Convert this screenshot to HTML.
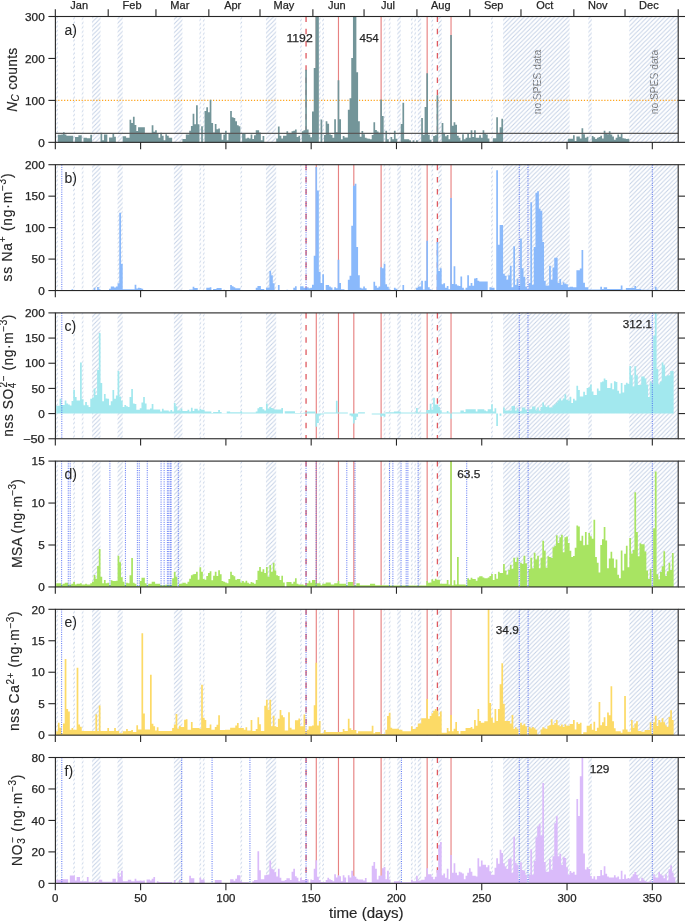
<!DOCTYPE html><html><head><meta charset="utf-8"><style>html,body{margin:0;padding:0;background:#fff;}svg{display:block;will-change:transform;}text{font-family:"Liberation Sans", sans-serif;fill:#262626;stroke:#262626;stroke-width:0.25px;} .tk{font-size:10.4px;} .lb{font-size:13.8px;stroke-width:0.15px;} .pl{font-size:14px;stroke-width:0.05px;} .an{font-size:11.5px;} .mo{font-size:11px;} .ns{font-size:10.3px;fill:#6e6e6e;stroke:#6e6e6e;stroke-width:0.1px;}</style></head><body><svg width="685" height="921" viewBox="0 0 685 921"><defs><pattern id="hatch" patternUnits="userSpaceOnUse" width="4.4" height="4.4"><path d="M-1,1 l2,-2 M0,4.4 l4.4,-4.4 M3.4,5.4 l2,-2" stroke="#c4d1e6" stroke-width="0.95"/></pattern></defs><rect width="685" height="921" fill="#fff"/><text transform="translate(540.5,82.05) rotate(-90)" x="0" y="0" text-anchor="middle" class="ns" textLength="64.3" lengthAdjust="spacingAndGlyphs">no SPES data</text><text transform="translate(658,82.05) rotate(-90)" x="0" y="0" text-anchor="middle" class="ns" textLength="64.3" lengthAdjust="spacingAndGlyphs">no SPES data</text><rect x="56.17" y="16.5" width="1.71" height="125.85" fill="url(#hatch)"/><rect x="73.23" y="16.5" width="1.71" height="125.85" fill="url(#hatch)"/><rect x="81.76" y="16.5" width="1.71" height="125.85" fill="url(#hatch)"/><rect x="91.99" y="16.5" width="8.53" height="125.85" fill="url(#hatch)"/><rect x="117.58" y="16.5" width="5.12" height="125.85" fill="url(#hatch)"/><rect x="173.87" y="16.5" width="8.53" height="125.85" fill="url(#hatch)"/><rect x="199.45" y="16.5" width="1.71" height="125.85" fill="url(#hatch)"/><rect x="202.86" y="16.5" width="1.71" height="125.85" fill="url(#hatch)"/><rect x="240.39" y="16.5" width="1.71" height="125.85" fill="url(#hatch)"/><rect x="265.97" y="16.5" width="10.23" height="125.85" fill="url(#hatch)"/><rect x="300.09" y="16.5" width="1.71" height="125.85" fill="url(#hatch)"/><rect x="318.85" y="16.5" width="1.71" height="125.85" fill="url(#hatch)"/><rect x="322.26" y="16.5" width="1.71" height="125.85" fill="url(#hatch)"/><rect x="383.67" y="16.5" width="1.71" height="125.85" fill="url(#hatch)"/><rect x="388.78" y="16.5" width="1.71" height="125.85" fill="url(#hatch)"/><rect x="397.31" y="16.5" width="3.41" height="125.85" fill="url(#hatch)"/><rect x="410.96" y="16.5" width="1.71" height="125.85" fill="url(#hatch)"/><rect x="414.37" y="16.5" width="1.71" height="125.85" fill="url(#hatch)"/><rect x="417.78" y="16.5" width="3.41" height="125.85" fill="url(#hatch)"/><rect x="431.43" y="16.5" width="1.71" height="125.85" fill="url(#hatch)"/><rect x="438.25" y="16.5" width="3.41" height="125.85" fill="url(#hatch)"/><rect x="491.13" y="16.5" width="1.71" height="125.85" fill="url(#hatch)"/><rect x="588.35" y="16.5" width="3.41" height="125.85" fill="url(#hatch)"/><rect x="503.07" y="16.5" width="66.52" height="125.85" fill="url(#hatch)"/><rect x="629.29" y="16.5" width="48.91" height="125.85" fill="url(#hatch)"/><line x1="316.29" y1="16.5" x2="316.29" y2="142.35" stroke="#d62728" stroke-opacity="0.58" stroke-width="1.15"/><line x1="338.47" y1="16.5" x2="338.47" y2="142.35" stroke="#d62728" stroke-opacity="0.58" stroke-width="1.15"/><line x1="353.82" y1="16.5" x2="353.82" y2="142.35" stroke="#d62728" stroke-opacity="0.58" stroke-width="1.15"/><line x1="381.11" y1="16.5" x2="381.11" y2="142.35" stroke="#d62728" stroke-opacity="0.58" stroke-width="1.15"/><line x1="427.16" y1="16.5" x2="427.16" y2="142.35" stroke="#d62728" stroke-opacity="0.58" stroke-width="1.15"/><line x1="451.04" y1="16.5" x2="451.04" y2="142.35" stroke="#d62728" stroke-opacity="0.58" stroke-width="1.15"/><line x1="306.06" y1="16.5" x2="306.06" y2="142.35" stroke="#df5a60" stroke-width="1.3" stroke-dasharray="5.5,6.7"/><line x1="437.4" y1="16.5" x2="437.4" y2="142.35" stroke="#df5a60" stroke-width="1.3" stroke-dasharray="5.5,6.7"/><line x1="55.32" y1="100.4" x2="678.2" y2="100.4" stroke="#ffa31a" stroke-width="1.2" stroke-dasharray="1.2,1.72"/><path d="M57.88 142.35H61.29V134.85H57.88ZM61.29 142.35H63V134.45H61.29ZM63 142.35H64.7V132.35H63ZM64.7 142.35H66.41V134.45H64.7ZM66.41 142.35H73.23V135.75H66.41ZM74.94 142.35H78.35V137.05H74.94ZM78.35 142.35H81.76V135.25H78.35ZM83.46 142.35H86.88V137.85H83.46ZM86.88 142.35H90.29V138.35H86.88ZM90.29 142.35H91.99V134.85H90.29ZM100.52 142.35H102.23V132.85H100.52ZM102.23 142.35H103.93V140.15H102.23ZM103.93 142.35H107.34V134.45H103.93ZM107.34 142.35H109.05V142.05H107.34ZM109.05 142.35H112.46V137.45H109.05ZM112.46 142.35H114.17V133.95H112.46ZM114.17 142.35H115.87V136.85H114.17ZM122.7 142.35H126.11V136.15H122.7ZM126.11 142.35H129.52V137.85H126.11ZM129.52 142.35H131.22V119.75H129.52ZM131.22 142.35H132.93V123.05H131.22ZM132.93 142.35H134.64V116.85H132.93ZM134.64 142.35H136.34V125.05H134.64ZM136.34 142.35H138.05V131.05H136.34ZM138.05 142.35H144.87V127.25H138.05ZM144.87 142.35H151.69V133.15H144.87ZM151.69 142.35H153.4V125.35H151.69ZM153.4 142.35H155.1V131.85H153.4ZM155.1 142.35H156.81V130.35H155.1ZM156.81 142.35H158.51V133.15H156.81ZM158.51 142.35H160.22V137.75H158.51ZM160.22 142.35H161.93V132.75H160.22ZM161.93 142.35H163.63V135.75H161.93ZM163.63 142.35H165.34V140.35H163.63ZM165.34 142.35H167.04V134.25H165.34ZM167.04 142.35H168.75V135.75H167.04ZM168.75 142.35H172.16V137.75H168.75ZM182.39 142.35H185.81V139.05H182.39ZM185.81 142.35H189.22V134.45H185.81ZM189.22 142.35H190.92V130.75H189.22ZM190.92 142.35H192.63V125.95H190.92ZM192.63 142.35H194.33V113.85H192.63ZM194.33 142.35H196.04V124.25H194.33ZM196.04 142.35H197.75V105.15H196.04ZM197.75 142.35H199.45V124.25H197.75ZM201.16 142.35H202.86V126.15H201.16ZM204.57 142.35H206.27V111.05H204.57ZM206.27 142.35H207.98V107.15H206.27ZM207.98 142.35H209.69V112.15H207.98ZM209.69 142.35H211.39V99.65H209.69ZM211.39 142.35H213.1V122.95H211.39ZM213.1 142.35H214.8V132.45H213.1ZM214.8 142.35H216.51V123.95H214.8ZM216.51 142.35H218.21V129.25H216.51ZM218.21 142.35H219.92V128.55H218.21ZM219.92 142.35H221.63V133.85H219.92ZM221.63 142.35H223.33V139.75H221.63ZM223.33 142.35H225.04V134.45H223.33ZM225.04 142.35H226.74V130.75H225.04ZM226.74 142.35H228.45V140.35H226.74ZM228.45 142.35H230.15V133.15H228.45ZM230.15 142.35H231.86V111.05H230.15ZM231.86 142.35H233.57V117.15H231.86ZM233.57 142.35H235.27V118.05H233.57ZM235.27 142.35H236.98V121.35H235.27ZM236.98 142.35H238.68V125.25H236.98ZM238.68 142.35H240.39V126.15H238.68ZM242.09 142.35H245.51V133.45H242.09ZM245.51 142.35H247.21V138.45H245.51ZM247.21 142.35H248.92V137.75H247.21ZM248.92 142.35H250.62V138.45H248.92ZM250.62 142.35H252.33V134.45H250.62ZM252.33 142.35H254.03V139.05H252.33ZM254.03 142.35H255.74V135.15H254.03ZM255.74 142.35H259.15V130.25H255.74ZM259.15 142.35H260.86V132.45H259.15ZM260.86 142.35H262.56V140.35H260.86ZM262.56 142.35H264.27V136.05H262.56ZM276.21 142.35H277.91V138.45H276.21ZM277.91 142.35H279.62V126.55H277.91ZM279.62 142.35H281.33V135.75H279.62ZM281.33 142.35H283.03V138.45H281.33ZM283.03 142.35H286.44V135.75H283.03ZM286.44 142.35H288.15V131.15H286.44ZM288.15 142.35H291.56V133.85H288.15ZM291.56 142.35H293.27V131.15H291.56ZM293.27 142.35H294.97V130.75H293.27ZM294.97 142.35H296.68V129.45H294.97ZM296.68 142.35H298.38V137.05H296.68ZM298.38 142.35H300.09V135.75H298.38ZM301.79 142.35H303.5V131.15H301.79ZM303.5 142.35H305.21V130.25H303.5ZM305.21 142.35H306.91V69.65H305.21ZM306.91 142.35H308.62V129.45H306.91ZM308.62 142.35H310.32V134.45H308.62ZM310.32 142.35H312.03V137.35H310.32ZM312.03 142.35H313.73V111.55H312.03ZM313.73 142.35H315.44V67.95H313.73ZM315.44 142.35H318.85V16.5H315.44ZM320.56 142.35H322.26V119.45H320.56ZM323.97 142.35H325.67V134.95H323.97ZM325.67 142.35H327.38V121.15H325.67ZM327.38 142.35H329.08V123.65H327.38ZM329.08 142.35H330.79V134.25H329.08ZM330.79 142.35H332.5V134.95H330.79ZM332.5 142.35H334.2V137.75H332.5ZM334.2 142.35H335.91V119.15H334.2ZM335.91 142.35H337.61V132.15H335.91ZM337.61 142.35H339.32V80.25H337.61ZM339.32 142.35H341.02V119.15H339.32ZM341.02 142.35H342.73V139.15H341.02ZM342.73 142.35H344.44V136.05H342.73ZM344.44 142.35H347.85V137.45H344.44ZM347.85 142.35H349.55V109.85H347.85ZM349.55 142.35H351.26V98.25H349.55ZM351.26 142.35H352.96V58.05H351.26ZM352.96 142.35H356.38V16.5H352.96ZM356.38 142.35H358.08V72.15H356.38ZM358.08 142.35H359.79V121.15H358.08ZM359.79 142.35H361.49V136.65H359.79ZM361.49 142.35H363.2V131.05H361.49ZM363.2 142.35H364.9V134.25H363.2ZM364.9 142.35H366.61V137.75H364.9ZM366.61 142.35H368.32V138.45H366.61ZM368.32 142.35H370.02V138.85H368.32ZM370.02 142.35H371.73V139.15H370.02ZM371.73 142.35H373.43V134.95H371.73ZM373.43 142.35H375.14V122.25H373.43ZM375.14 142.35H376.84V130.05H375.14ZM376.84 142.35H378.55V131.45H376.84ZM378.55 142.35H380.26V132.85H378.55ZM380.26 142.35H381.96V99.45H380.26ZM381.96 142.35H383.67V115.95H381.96ZM385.37 142.35H387.08V130.75H385.37ZM387.08 142.35H388.78V139.15H387.08ZM390.49 142.35H392.2V137.05H390.49ZM392.2 142.35H393.9V139.15H392.2ZM393.9 142.35H395.61V130.75H393.9ZM395.61 142.35H397.31V138.85H395.61ZM400.72 142.35H402.43V123.95H400.72ZM402.43 142.35H404.14V102.85H402.43ZM404.14 142.35H409.25V139.15H404.14ZM409.25 142.35H410.96V140.35H409.25ZM412.66 142.35H414.37V140.35H412.66ZM416.08 142.35H417.78V140.35H416.08ZM421.19 142.35H422.9V118.05H421.19ZM422.9 142.35H424.6V134.65H422.9ZM424.6 142.35H426.31V107.05H424.6ZM426.31 142.35H428.02V73.25H426.31ZM428.02 142.35H429.72V134.65H428.02ZM429.72 142.35H431.43V139.85H429.72ZM433.13 142.35H434.84V136.05H433.13ZM434.84 142.35H436.54V135.25H434.84ZM436.54 142.35H438.25V95.15H436.54ZM441.66 142.35H443.37V122.95H441.66ZM443.37 142.35H445.07V132.85H443.37ZM445.07 142.35H446.78V136.35H445.07ZM446.78 142.35H448.48V134.95H446.78ZM448.48 142.35H450.19V139.15H448.48ZM450.19 142.35H451.9V35.05H450.19ZM451.9 142.35H453.6V125.75H451.9ZM453.6 142.35H455.31V122.25H453.6ZM455.31 142.35H457.01V124.75H455.31ZM457.01 142.35H458.72V135.65H457.01ZM458.72 142.35H460.42V137.75H458.72ZM460.42 142.35H462.13V140.55H460.42ZM462.13 142.35H463.84V134.25H462.13ZM463.84 142.35H465.54V139.15H463.84ZM465.54 142.35H467.25V137.75H465.54ZM467.25 142.35H468.95V133.55H467.25ZM468.95 142.35H470.66V137.75H468.95ZM470.66 142.35H472.36V130.25H470.66ZM472.36 142.35H474.07V137.05H472.36ZM474.07 142.35H475.78V130.25H474.07ZM475.78 142.35H479.19V137.75H475.78ZM479.19 142.35H480.89V135.15H479.19ZM480.89 142.35H482.6V137.75H480.89ZM482.6 142.35H484.3V130.25H482.6ZM484.3 142.35H486.01V133.15H484.3ZM486.01 142.35H487.71V134.45H486.01ZM487.71 142.35H489.42V138.45H487.71ZM492.83 142.35H496.24V138.15H492.83ZM496.24 142.35H497.95V117.15H496.24ZM497.95 142.35H499.65V133.15H497.95ZM499.65 142.35H501.36V127.25H499.65ZM501.36 142.35H503.07V118.75H501.36ZM567.88 142.35H573V138.85H567.88ZM573 142.35H574.71V135.15H573ZM574.71 142.35H576.41V141.05H574.71ZM576.41 142.35H579.82V136.45H576.41ZM579.82 142.35H581.53V138.45H579.82ZM581.53 142.35H583.23V128.15H581.53ZM583.23 142.35H584.94V134.25H583.23ZM584.94 142.35H586.65V137.75H584.94ZM586.65 142.35H588.35V136.85H586.65ZM591.76 142.35H593.47V136.05H591.76ZM593.47 142.35H595.17V137.35H593.47ZM595.17 142.35H596.88V139.05H595.17ZM596.88 142.35H598.59V137.75H596.88ZM598.59 142.35H600.29V137.05H598.59ZM600.29 142.35H602V135.75H600.29ZM602 142.35H603.7V138.45H602ZM603.7 142.35H605.41V130.75H603.7ZM605.41 142.35H607.11V133.15H605.41ZM607.11 142.35H608.82V134.25H607.11ZM608.82 142.35H610.53V131.15H608.82ZM610.53 142.35H612.23V134.45H610.53ZM612.23 142.35H613.94V136.45H612.23ZM613.94 142.35H615.64V139.75H613.94ZM615.64 142.35H617.35V137.75H615.64ZM617.35 142.35H619.05V134.45H617.35ZM619.05 142.35H620.76V136.85H619.05ZM620.76 142.35H622.47V133.45H620.76ZM622.47 142.35H624.17V138.15H622.47ZM624.17 142.35H625.88V138.45H624.17ZM625.88 142.35H627.58V139.05H625.88ZM627.58 142.35H629.29V138.65H627.58Z" fill="#739599"/><line x1="55.32" y1="133.4" x2="678.2" y2="133.4" stroke="#5a5a5a" stroke-width="1.2"/><rect x="55.4" y="16.5" width="622.8" height="125.85" fill="none" stroke="#262626" stroke-width="1.1"/><line x1="48.4" y1="142.35" x2="55.4" y2="142.35" stroke="#262626" stroke-width="1.1"/><line x1="678.2" y1="142.35" x2="685.2" y2="142.35" stroke="#262626" stroke-width="1.1"/><text x="38.15" y="146.55" class="tk" textLength="6.55" lengthAdjust="spacingAndGlyphs">0</text><line x1="48.4" y1="100.4" x2="55.4" y2="100.4" stroke="#262626" stroke-width="1.1"/><line x1="678.2" y1="100.4" x2="685.2" y2="100.4" stroke="#262626" stroke-width="1.1"/><text x="25.05" y="104.6" class="tk" textLength="19.65" lengthAdjust="spacingAndGlyphs">100</text><line x1="48.4" y1="58.45" x2="55.4" y2="58.45" stroke="#262626" stroke-width="1.1"/><line x1="678.2" y1="58.45" x2="685.2" y2="58.45" stroke="#262626" stroke-width="1.1"/><text x="25.05" y="62.65" class="tk" textLength="19.65" lengthAdjust="spacingAndGlyphs">200</text><line x1="48.4" y1="16.5" x2="55.4" y2="16.5" stroke="#262626" stroke-width="1.1"/><line x1="678.2" y1="16.5" x2="685.2" y2="16.5" stroke="#262626" stroke-width="1.1"/><text x="25.05" y="20.7" class="tk" textLength="19.65" lengthAdjust="spacingAndGlyphs">300</text><line x1="55.32" y1="142.35" x2="55.32" y2="149.15" stroke="#262626" stroke-width="1.1"/><line x1="140.6" y1="142.35" x2="140.6" y2="149.15" stroke="#262626" stroke-width="1.1"/><line x1="225.89" y1="142.35" x2="225.89" y2="149.15" stroke="#262626" stroke-width="1.1"/><line x1="311.18" y1="142.35" x2="311.18" y2="149.15" stroke="#262626" stroke-width="1.1"/><line x1="396.46" y1="142.35" x2="396.46" y2="149.15" stroke="#262626" stroke-width="1.1"/><line x1="481.75" y1="142.35" x2="481.75" y2="149.15" stroke="#262626" stroke-width="1.1"/><line x1="567.03" y1="142.35" x2="567.03" y2="149.15" stroke="#262626" stroke-width="1.1"/><line x1="652.32" y1="142.35" x2="652.32" y2="149.15" stroke="#262626" stroke-width="1.1"/><text x="64.5" y="34.5" class="pl">a)</text><rect x="56.17" y="164.7" width="1.71" height="125.85" fill="url(#hatch)"/><rect x="73.23" y="164.7" width="1.71" height="125.85" fill="url(#hatch)"/><rect x="81.76" y="164.7" width="1.71" height="125.85" fill="url(#hatch)"/><rect x="91.99" y="164.7" width="8.53" height="125.85" fill="url(#hatch)"/><rect x="117.58" y="164.7" width="5.12" height="125.85" fill="url(#hatch)"/><rect x="173.87" y="164.7" width="8.53" height="125.85" fill="url(#hatch)"/><rect x="199.45" y="164.7" width="1.71" height="125.85" fill="url(#hatch)"/><rect x="202.86" y="164.7" width="1.71" height="125.85" fill="url(#hatch)"/><rect x="240.39" y="164.7" width="1.71" height="125.85" fill="url(#hatch)"/><rect x="265.97" y="164.7" width="10.23" height="125.85" fill="url(#hatch)"/><rect x="300.09" y="164.7" width="1.71" height="125.85" fill="url(#hatch)"/><rect x="318.85" y="164.7" width="1.71" height="125.85" fill="url(#hatch)"/><rect x="322.26" y="164.7" width="1.71" height="125.85" fill="url(#hatch)"/><rect x="383.67" y="164.7" width="1.71" height="125.85" fill="url(#hatch)"/><rect x="388.78" y="164.7" width="1.71" height="125.85" fill="url(#hatch)"/><rect x="397.31" y="164.7" width="3.41" height="125.85" fill="url(#hatch)"/><rect x="410.96" y="164.7" width="1.71" height="125.85" fill="url(#hatch)"/><rect x="414.37" y="164.7" width="1.71" height="125.85" fill="url(#hatch)"/><rect x="417.78" y="164.7" width="3.41" height="125.85" fill="url(#hatch)"/><rect x="431.43" y="164.7" width="1.71" height="125.85" fill="url(#hatch)"/><rect x="438.25" y="164.7" width="3.41" height="125.85" fill="url(#hatch)"/><rect x="491.13" y="164.7" width="1.71" height="125.85" fill="url(#hatch)"/><rect x="588.35" y="164.7" width="3.41" height="125.85" fill="url(#hatch)"/><rect x="503.07" y="164.7" width="66.52" height="125.85" fill="url(#hatch)"/><rect x="629.29" y="164.7" width="48.91" height="125.85" fill="url(#hatch)"/><line x1="316.29" y1="164.7" x2="316.29" y2="290.55" stroke="#d62728" stroke-opacity="0.58" stroke-width="1.15"/><line x1="338.47" y1="164.7" x2="338.47" y2="290.55" stroke="#d62728" stroke-opacity="0.58" stroke-width="1.15"/><line x1="353.82" y1="164.7" x2="353.82" y2="290.55" stroke="#d62728" stroke-opacity="0.58" stroke-width="1.15"/><line x1="381.11" y1="164.7" x2="381.11" y2="290.55" stroke="#d62728" stroke-opacity="0.58" stroke-width="1.15"/><line x1="427.16" y1="164.7" x2="427.16" y2="290.55" stroke="#d62728" stroke-opacity="0.58" stroke-width="1.15"/><line x1="451.04" y1="164.7" x2="451.04" y2="290.55" stroke="#d62728" stroke-opacity="0.58" stroke-width="1.15"/><line x1="306.06" y1="164.7" x2="306.06" y2="290.55" stroke="#df5a60" stroke-width="1.3" stroke-dasharray="5.5,6.7"/><line x1="437.4" y1="164.7" x2="437.4" y2="290.55" stroke="#df5a60" stroke-width="1.3" stroke-dasharray="5.5,6.7"/><path d="M71.52 290.55H73.23V289.15H71.52ZM93.7 290.55H95.4V287.75H93.7ZM97.11 290.55H98.82V287.05H97.11ZM98.82 290.55H100.52V289.15H98.82ZM109.05 290.55H110.76V288.85H109.05ZM110.76 290.55H114.17V286.55H110.76ZM114.17 290.55H115.87V287.45H114.17ZM115.87 290.55H117.58V286.55H115.87ZM117.58 290.55H119.28V283.25H117.58ZM119.28 290.55H120.99V212.65H119.28ZM120.99 290.55H122.7V263.75H120.99ZM122.7 290.55H134.64V289.15H122.7ZM134.64 290.55H136.34V284.65H134.64ZM136.34 290.55H138.05V288.45H136.34ZM138.05 290.55H139.75V287.75H138.05ZM139.75 290.55H141.46V288.05H139.75ZM141.46 290.55H143.16V288.85H141.46ZM189.22 290.55H192.63V289.45H189.22ZM192.63 290.55H194.33V286.75H192.63ZM194.33 290.55H197.75V288.05H194.33ZM206.27 290.55H209.69V287.75H206.27ZM209.69 290.55H211.39V287.25H209.69ZM213.1 290.55H216.51V289.05H213.1ZM216.51 290.55H221.63V288.05H216.51ZM223.33 290.55H225.04V289.65H223.33ZM230.15 290.55H231.86V285.05H230.15ZM231.86 290.55H233.57V286.35H231.86ZM233.57 290.55H235.27V287.25H233.57ZM235.27 290.55H240.39V288.35H235.27ZM255.74 290.55H257.45V287.75H255.74ZM257.45 290.55H260.86V286.05H257.45ZM260.86 290.55H264.27V289.05H260.86ZM265.97 290.55H267.68V287.75H265.97ZM267.68 290.55H269.39V287.55H267.68ZM269.39 290.55H271.09V271.05H269.39ZM271.09 290.55H272.8V275.25H271.09ZM272.8 290.55H274.5V283.15H272.8ZM277.91 290.55H279.62V285.05H277.91ZM286.44 290.55H288.15V289.65H286.44ZM293.27 290.55H294.97V287.75H293.27ZM294.97 290.55H296.68V286.15H294.97ZM300.09 290.55H303.5V286.35H300.09ZM303.5 290.55H305.21V287.75H303.5ZM305.21 290.55H306.91V287.55H305.21ZM306.91 290.55H308.62V287.35H306.91ZM308.62 290.55H310.32V288.35H308.62ZM310.32 290.55H312.03V287.85H310.32ZM312.03 290.55H313.73V284.65H312.03ZM313.73 290.55H315.44V255.85H313.73ZM315.44 290.55H317.14V166.95H315.44ZM317.14 290.55H318.85V190.55H317.14ZM318.85 290.55H320.56V271.65H318.85ZM320.56 290.55H322.26V282.95H320.56ZM322.26 290.55H323.97V274.15H322.26ZM323.97 290.55H325.67V289.95H323.97ZM325.67 290.55H329.08V285.05H325.67ZM329.08 290.55H330.79V286.45H329.08ZM330.79 290.55H332.5V287.45H330.79ZM332.5 290.55H334.2V289.65H332.5ZM334.2 290.55H335.91V287.15H334.2ZM335.91 290.55H337.61V288.25H335.91ZM337.61 290.55H339.32V259.65H337.61ZM339.32 290.55H341.02V282.95H339.32ZM341.02 290.55H344.44V289.25H341.02ZM347.85 290.55H349.55V279.85H347.85ZM349.55 290.55H351.26V275.85H349.55ZM351.26 290.55H352.96V225.75H351.26ZM352.96 290.55H354.67V185.85H352.96ZM354.67 290.55H356.38V183.85H354.67ZM356.38 290.55H358.08V246.95H356.38ZM358.08 290.55H359.79V275.15H358.08ZM359.79 290.55H361.49V287.85H359.79ZM361.49 290.55H363.2V288.55H361.49ZM363.2 290.55H364.9V286.45H363.2ZM364.9 290.55H366.61V288.25H364.9ZM366.61 290.55H371.73V290.05H366.61ZM373.43 290.55H375.14V281.85H373.43ZM375.14 290.55H376.84V285.75H375.14ZM376.84 290.55H378.55V287.85H376.84ZM378.55 290.55H380.26V286.45H378.55ZM380.26 290.55H381.96V267.15H380.26ZM381.96 290.55H383.67V268.15H381.96ZM383.67 290.55H385.37V263.85H383.67ZM385.37 290.55H387.08V284.35H385.37ZM387.08 290.55H388.78V286.85H387.08ZM388.78 290.55H390.49V289.25H388.78ZM393.9 290.55H395.61V287.85H393.9ZM395.61 290.55H397.31V288.85H395.61ZM402.43 290.55H404.14V285.05H402.43ZM416.08 290.55H417.78V287.85H416.08ZM417.78 290.55H421.19V286.45H417.78ZM421.19 290.55H422.9V280.75H421.19ZM422.9 290.55H424.6V289.55H422.9ZM424.6 290.55H426.31V280.75H424.6ZM426.31 290.55H428.02V240.85H426.31ZM428.02 290.55H429.72V287.15H428.02ZM429.72 290.55H431.43V289.25H429.72ZM431.43 290.55H436.54V290.05H431.43ZM436.54 290.55H438.25V242.05H436.54ZM438.25 290.55H439.96V270.95H438.25ZM439.96 290.55H441.66V268.15H439.96ZM441.66 290.55H443.37V284.35H441.66ZM443.37 290.55H445.07V283.25H443.37ZM445.07 290.55H446.78V287.85H445.07ZM446.78 290.55H448.48V286.05H446.78ZM448.48 290.55H450.19V289.25H448.48ZM450.19 290.55H451.9V198.05H450.19ZM451.9 290.55H453.6V284.05H451.9ZM453.6 290.55H455.31V266.25H453.6ZM455.31 290.55H457.01V284.35H455.31ZM457.01 290.55H458.72V285.45H457.01ZM458.72 290.55H460.42V286.05H458.72ZM460.42 290.55H462.13V276.55H460.42ZM462.13 290.55H463.84V287.85H462.13ZM463.84 290.55H465.54V289.65H463.84ZM465.54 290.55H467.25V287.85H465.54ZM467.25 290.55H468.95V275.15H467.25ZM468.95 290.55H470.66V285.75H468.95ZM470.66 290.55H472.36V282.95H470.66ZM472.36 290.55H474.07V285.75H472.36ZM474.07 290.55H475.78V278.45H474.07ZM475.78 290.55H477.48V277.95H475.78ZM477.48 290.55H479.19V280.75H477.48ZM479.19 290.55H487.71V281.45H479.19ZM489.42 290.55H491.13V287.15H489.42ZM491.13 290.55H494.54V287.85H491.13ZM496.24 290.55H497.95V170.35H496.24ZM497.95 290.55H499.65V244.85H497.95ZM499.65 290.55H503.07V225.05H499.65ZM503.07 290.55H504.77V273.75H503.07ZM504.77 290.55H506.48V275.85H504.77ZM506.48 290.55H508.18V279.85H506.48ZM508.18 290.55H509.89V275.15H508.18ZM509.89 290.55H511.59V265.75H509.89ZM511.59 290.55H513.3V287.15H511.59ZM513.3 290.55H515.01V246.25H513.3ZM515.01 290.55H516.71V285.05H515.01ZM516.71 290.55H518.42V278.75H516.71ZM518.42 290.55H520.12V285.75H518.42ZM520.12 290.55H521.83V238.55H520.12ZM521.83 290.55H523.53V268.15H521.83ZM523.53 290.55H525.24V277.05H523.53ZM525.24 290.55H526.95V286.45H525.24ZM526.95 290.55H528.65V289.25H526.95ZM528.65 290.55H530.36V282.95H528.65ZM530.36 290.55H532.06V202.25H530.36ZM532.06 290.55H533.77V284.65H532.06ZM533.77 290.55H535.47V246.95H533.77ZM535.47 290.55H537.18V192.65H535.47ZM537.18 290.55H538.89V191.25H537.18ZM538.89 290.55H540.59V208.85H538.89ZM540.59 290.55H542.3V210.95H540.59ZM542.3 290.55H544V242.05H542.3ZM544 290.55H545.71V280.75H544ZM545.71 290.55H547.41V285.75H545.71ZM547.41 290.55H549.12V285.45H547.41ZM549.12 290.55H550.83V265.75H549.12ZM550.83 290.55H552.53V279.85H550.83ZM552.53 290.55H554.24V267.45H552.53ZM554.24 290.55H557.65V257.85H554.24ZM557.65 290.55H559.35V282.95H557.65ZM559.35 290.55H561.06V278.95H559.35ZM561.06 290.55H562.77V284.65H561.06ZM562.77 290.55H564.47V282.25H562.77ZM564.47 290.55H566.18V283.65H564.47ZM566.18 290.55H567.88V284.25H566.18ZM567.88 290.55H569.59V287.15H567.88ZM569.59 290.55H573V286.65H569.59ZM573 290.55H576.41V287.15H573ZM576.41 290.55H579.82V270.15H576.41ZM579.82 290.55H581.53V268.45H579.82ZM581.53 290.55H583.23V250.05H581.53ZM583.23 290.55H584.94V282.85H583.23ZM584.94 290.55H588.35V287.15H584.94ZM588.35 290.55H600.29V289.45H588.35ZM600.29 290.55H602V286.65H600.29ZM602 290.55H603.7V288.95H602ZM603.7 290.55H607.11V287.15H603.7ZM607.11 290.55H620.76V288.95H607.11ZM620.76 290.55H622.47V285.45H620.76ZM622.47 290.55H625.88V289.85H622.47ZM625.88 290.55H634.41V288.05H625.88ZM634.41 290.55H636.11V285.95H634.41ZM636.11 290.55H641.23V288.95H636.11ZM641.23 290.55H651.46V289.85H641.23ZM654.87 290.55H656.58V286.65H654.87ZM656.58 290.55H658.28V289.45H656.58Z" fill="#8ab9fb"/><line x1="61.8" y1="164.7" x2="61.8" y2="290.55" stroke="#3a58f2" stroke-opacity="0.85" stroke-width="1" stroke-dasharray="1,1.25"/><line x1="306.06" y1="164.7" x2="306.06" y2="290.55" stroke="#3a58f2" stroke-opacity="0.85" stroke-width="1" stroke-dasharray="1,1.25"/><line x1="519.27" y1="164.7" x2="519.27" y2="290.55" stroke="#3a58f2" stroke-opacity="0.85" stroke-width="1" stroke-dasharray="1,1.25"/><line x1="527.97" y1="164.7" x2="527.97" y2="290.55" stroke="#3a58f2" stroke-opacity="0.85" stroke-width="1" stroke-dasharray="1,1.25"/><line x1="652.32" y1="164.7" x2="652.32" y2="290.55" stroke="#3a58f2" stroke-opacity="0.85" stroke-width="1" stroke-dasharray="1,1.25"/><rect x="55.4" y="164.7" width="622.8" height="125.85" fill="none" stroke="#262626" stroke-width="1.1"/><line x1="48.4" y1="290.55" x2="55.4" y2="290.55" stroke="#262626" stroke-width="1.1"/><line x1="678.2" y1="290.55" x2="685.2" y2="290.55" stroke="#262626" stroke-width="1.1"/><text x="38.15" y="294.75" class="tk" textLength="6.55" lengthAdjust="spacingAndGlyphs">0</text><line x1="48.4" y1="259.09" x2="55.4" y2="259.09" stroke="#262626" stroke-width="1.1"/><line x1="678.2" y1="259.09" x2="685.2" y2="259.09" stroke="#262626" stroke-width="1.1"/><text x="31.6" y="263.29" class="tk" textLength="13.1" lengthAdjust="spacingAndGlyphs">50</text><line x1="48.4" y1="227.62" x2="55.4" y2="227.62" stroke="#262626" stroke-width="1.1"/><line x1="678.2" y1="227.62" x2="685.2" y2="227.62" stroke="#262626" stroke-width="1.1"/><text x="25.05" y="231.82" class="tk" textLength="19.65" lengthAdjust="spacingAndGlyphs">100</text><line x1="48.4" y1="196.16" x2="55.4" y2="196.16" stroke="#262626" stroke-width="1.1"/><line x1="678.2" y1="196.16" x2="685.2" y2="196.16" stroke="#262626" stroke-width="1.1"/><text x="25.05" y="200.36" class="tk" textLength="19.65" lengthAdjust="spacingAndGlyphs">150</text><line x1="48.4" y1="164.7" x2="55.4" y2="164.7" stroke="#262626" stroke-width="1.1"/><line x1="678.2" y1="164.7" x2="685.2" y2="164.7" stroke="#262626" stroke-width="1.1"/><text x="25.05" y="168.9" class="tk" textLength="19.65" lengthAdjust="spacingAndGlyphs">200</text><line x1="55.32" y1="290.55" x2="55.32" y2="297.35" stroke="#262626" stroke-width="1.1"/><line x1="140.6" y1="290.55" x2="140.6" y2="297.35" stroke="#262626" stroke-width="1.1"/><line x1="225.89" y1="290.55" x2="225.89" y2="297.35" stroke="#262626" stroke-width="1.1"/><line x1="311.18" y1="290.55" x2="311.18" y2="297.35" stroke="#262626" stroke-width="1.1"/><line x1="396.46" y1="290.55" x2="396.46" y2="297.35" stroke="#262626" stroke-width="1.1"/><line x1="481.75" y1="290.55" x2="481.75" y2="297.35" stroke="#262626" stroke-width="1.1"/><line x1="567.03" y1="290.55" x2="567.03" y2="297.35" stroke="#262626" stroke-width="1.1"/><line x1="652.32" y1="290.55" x2="652.32" y2="297.35" stroke="#262626" stroke-width="1.1"/><text x="64.5" y="182.7" class="pl">b)</text><rect x="56.17" y="312.9" width="1.71" height="125.85" fill="url(#hatch)"/><rect x="73.23" y="312.9" width="1.71" height="125.85" fill="url(#hatch)"/><rect x="81.76" y="312.9" width="1.71" height="125.85" fill="url(#hatch)"/><rect x="91.99" y="312.9" width="8.53" height="125.85" fill="url(#hatch)"/><rect x="117.58" y="312.9" width="5.12" height="125.85" fill="url(#hatch)"/><rect x="173.87" y="312.9" width="8.53" height="125.85" fill="url(#hatch)"/><rect x="199.45" y="312.9" width="1.71" height="125.85" fill="url(#hatch)"/><rect x="202.86" y="312.9" width="1.71" height="125.85" fill="url(#hatch)"/><rect x="240.39" y="312.9" width="1.71" height="125.85" fill="url(#hatch)"/><rect x="265.97" y="312.9" width="10.23" height="125.85" fill="url(#hatch)"/><rect x="300.09" y="312.9" width="1.71" height="125.85" fill="url(#hatch)"/><rect x="318.85" y="312.9" width="1.71" height="125.85" fill="url(#hatch)"/><rect x="322.26" y="312.9" width="1.71" height="125.85" fill="url(#hatch)"/><rect x="383.67" y="312.9" width="1.71" height="125.85" fill="url(#hatch)"/><rect x="388.78" y="312.9" width="1.71" height="125.85" fill="url(#hatch)"/><rect x="397.31" y="312.9" width="3.41" height="125.85" fill="url(#hatch)"/><rect x="410.96" y="312.9" width="1.71" height="125.85" fill="url(#hatch)"/><rect x="414.37" y="312.9" width="1.71" height="125.85" fill="url(#hatch)"/><rect x="417.78" y="312.9" width="3.41" height="125.85" fill="url(#hatch)"/><rect x="431.43" y="312.9" width="1.71" height="125.85" fill="url(#hatch)"/><rect x="438.25" y="312.9" width="3.41" height="125.85" fill="url(#hatch)"/><rect x="491.13" y="312.9" width="1.71" height="125.85" fill="url(#hatch)"/><rect x="588.35" y="312.9" width="3.41" height="125.85" fill="url(#hatch)"/><rect x="503.07" y="312.9" width="66.52" height="125.85" fill="url(#hatch)"/><rect x="629.29" y="312.9" width="48.91" height="125.85" fill="url(#hatch)"/><line x1="316.29" y1="312.9" x2="316.29" y2="438.75" stroke="#d62728" stroke-opacity="0.58" stroke-width="1.15"/><line x1="338.47" y1="312.9" x2="338.47" y2="438.75" stroke="#d62728" stroke-opacity="0.58" stroke-width="1.15"/><line x1="353.82" y1="312.9" x2="353.82" y2="438.75" stroke="#d62728" stroke-opacity="0.58" stroke-width="1.15"/><line x1="381.11" y1="312.9" x2="381.11" y2="438.75" stroke="#d62728" stroke-opacity="0.58" stroke-width="1.15"/><line x1="427.16" y1="312.9" x2="427.16" y2="438.75" stroke="#d62728" stroke-opacity="0.58" stroke-width="1.15"/><line x1="451.04" y1="312.9" x2="451.04" y2="438.75" stroke="#d62728" stroke-opacity="0.58" stroke-width="1.15"/><line x1="306.06" y1="312.9" x2="306.06" y2="438.75" stroke="#df5a60" stroke-width="1.3" stroke-dasharray="5.5,6.7"/><line x1="437.4" y1="312.9" x2="437.4" y2="438.75" stroke="#df5a60" stroke-width="1.3" stroke-dasharray="5.5,6.7"/><path d="M56.17 413.58H59.58V405.78H56.17ZM59.58 413.58H61.29V398.78H59.58ZM61.29 413.58H64.7V404.88H61.29ZM64.7 413.58H66.41V400.58H64.7ZM66.41 413.58H68.11V403.38H66.41ZM68.11 413.58H69.82V404.38H68.11ZM69.82 413.58H71.52V405.58H69.82ZM71.52 413.58H73.23V400.98H71.52ZM73.23 413.58H74.94V389.78H73.23ZM74.94 413.58H76.64V397.08H74.94ZM76.64 413.58H80.05V400.58H76.64ZM80.05 413.58H81.76V362.48H80.05ZM81.76 413.58H83.46V399.18H81.76ZM83.46 413.58H85.17V405.28H83.46ZM85.17 413.58H86.88V401.98H85.17ZM86.88 413.58H88.58V405.28H86.88ZM88.58 413.58H90.29V406.98H88.58ZM90.29 413.58H91.99V398.78H90.29ZM91.99 413.58H93.7V397.38H91.99ZM93.7 413.58H95.4V388.58H93.7ZM95.4 413.58H97.11V394.98H95.4ZM97.11 413.58H98.82V369.98H97.11ZM98.82 413.58H100.52V332.88H98.82ZM100.52 413.58H102.23V382.98H100.52ZM102.23 413.58H103.93V401.28H102.23ZM103.93 413.58H105.64V393.98H103.93ZM105.64 413.58H107.34V398.48H105.64ZM107.34 413.58H109.05V398.78H107.34ZM109.05 413.58H110.76V405.28H109.05ZM110.76 413.58H112.46V401.28H110.76ZM112.46 413.58H114.17V389.98H112.46ZM114.17 413.58H115.87V398.78H114.17ZM115.87 413.58H117.58V395.38H115.87ZM117.58 413.58H119.28V370.98H117.58ZM119.28 413.58H120.99V396.38H119.28ZM120.99 413.58H122.7V400.58H120.99ZM122.7 413.58H124.4V406.98H122.7ZM124.4 413.58H126.11V404.88H124.4ZM126.11 413.58H127.81V406.28H126.11ZM127.81 413.58H129.52V406.98H127.81ZM129.52 413.58H131.22V397.08H129.52ZM131.22 413.58H132.93V388.88H131.22ZM132.93 413.58H134.64V403.38H132.93ZM134.64 413.58H136.34V404.08H134.64ZM136.34 413.58H139.75V409.78H136.34ZM139.75 413.58H141.46V408.28H139.75ZM141.46 413.58H143.16V402.58H141.46ZM143.16 413.58H144.87V397.08H143.16ZM144.87 413.58H146.57V403.38H144.87ZM146.57 413.58H149.99V409.48H146.57ZM149.99 413.58H151.69V408.38H149.99ZM151.69 413.58H153.4V404.08H151.69ZM153.4 413.58H160.22V409.48H153.4ZM160.22 413.58H161.93V411.48H160.22ZM161.93 413.58H163.63V408.68H161.93ZM163.63 413.58H168.75V410.48H163.63ZM168.75 413.58H170.45V411.48H168.75ZM170.45 413.58H172.16V410.08H170.45ZM172.16 413.58H173.87V411.48H172.16ZM173.87 413.58H175.57V402.98H173.87ZM175.57 413.58H177.28V406.28H175.57ZM177.28 413.58H180.69V410.48H177.28ZM180.69 413.58H182.39V408.38H180.69ZM182.39 413.58H187.51V410.88H182.39ZM187.51 413.58H189.22V409.78H187.51ZM189.22 413.58H190.92V411.48H189.22ZM190.92 413.58H192.63V407.68H190.92ZM192.63 413.58H194.33V410.88H192.63ZM194.33 413.58H197.75V408.68H194.33ZM197.75 413.58H199.45V410.48H197.75ZM199.45 413.58H201.16V408.68H199.45ZM201.16 413.58H204.57V409.78H201.16ZM204.57 413.58H211.39V411.48H204.57ZM211.39 413.58H213.1V412.88H211.39ZM213.1 413.58H218.21V411.88H213.1ZM218.21 413.58H219.92V410.08H218.21ZM219.92 413.58H221.63V411.88H219.92ZM221.63 413.58H226.74V413.18H221.63ZM226.74 413.58H230.15V411.58H226.74ZM230.15 413.58H240.39V412.18H230.15ZM240.39 413.58H242.09V411.28H240.39ZM242.09 413.58H255.74V412.38H242.09ZM255.74 413.58H257.45V411.58H255.74ZM257.45 413.58H259.15V408.28H257.45ZM259.15 413.58H262.56V406.98H259.15ZM262.56 413.58H264.27V409.18H262.56ZM264.27 413.58H265.97V410.58H264.27ZM265.97 413.58H267.68V403.38H265.97ZM267.68 413.58H269.39V408.68H267.68ZM269.39 413.58H271.09V406.98H269.39ZM271.09 413.58H272.8V407.88H271.09ZM272.8 413.58H274.5V408.68H272.8ZM274.5 413.58H281.33V409.58H274.5ZM281.33 413.58H283.03V407.88H281.33ZM284.74 413.58H294.97V411.28H284.74ZM294.97 413.58H303.5V412.88H294.97ZM303.5 413.58H306.91V412.58H303.5ZM306.91 413.58H315.44V411.58H306.91ZM315.44 413.58H317.14V426.68H315.44ZM317.14 413.58H318.85V423.08H317.14ZM318.85 413.58H320.56V415.48H318.85ZM320.56 413.58H323.97V414.38H320.56ZM323.97 413.58H335.91V412.58H323.97ZM335.91 413.58H337.61V400.78H335.91ZM337.61 413.58H347.85V412.58H337.61ZM349.55 413.58H351.26V415.48H349.55ZM351.26 413.58H352.96V416.58H351.26ZM352.96 413.58H354.67V423.58H352.96ZM354.67 413.58H356.38V420.08H354.67ZM356.38 413.58H358.08V416.78H356.38ZM358.08 413.58H364.9V412.18H358.08ZM371.73 413.58H380.26V414.38H371.73ZM380.26 413.58H381.96V416.78H380.26ZM381.96 413.58H383.67V415.78H381.96ZM383.67 413.58H385.37V416.78H383.67ZM385.37 413.58H393.9V412.18H385.37ZM393.9 413.58H400.72V411.58H393.9ZM400.72 413.58H416.08V412.58H400.72ZM416.08 413.58H417.78V407.88H416.08ZM417.78 413.58H426.31V412.58H417.78ZM426.31 413.58H429.72V409.98H426.31ZM429.72 413.58H431.43V403.68H429.72ZM431.43 413.58H433.13V409.58H431.43ZM433.13 413.58H434.84V397.78H433.13ZM434.84 413.58H438.25V404.38H434.84ZM438.25 413.58H439.96V406.98H438.25ZM439.96 413.58H441.66V410.18H439.96ZM441.66 413.58H446.78V412.58H441.66ZM446.78 413.58H448.48V410.88H446.78ZM448.48 413.58H450.19V412.58H448.48ZM450.19 413.58H451.9V418.78H450.19ZM451.9 413.58H460.42V412.58H451.9ZM460.42 413.58H463.84V410.48H460.42ZM463.84 413.58H465.54V412.08H463.84ZM465.54 413.58H475.78V409.18H465.54ZM475.78 413.58H477.48V411.58H475.78ZM477.48 413.58H484.3V409.18H477.48ZM484.3 413.58H486.01V410.48H484.3ZM486.01 413.58H487.71V411.28H486.01ZM487.71 413.58H491.13V409.18H487.71ZM491.13 413.58H492.83V404.28H491.13ZM492.83 413.58H494.54V411.58H492.83ZM494.54 413.58H496.24V408.28H494.54ZM496.24 413.58H497.95V425.98H496.24ZM499.65 413.58H501.36V415.78H499.65ZM503.07 413.58H504.77V407.38H503.07ZM504.77 413.58H511.59V410.48H504.77ZM511.59 413.58H515.01V405.98H511.59ZM515.01 413.58H516.71V410.48H515.01ZM516.71 413.58H518.42V408.28H516.71ZM518.42 413.58H521.83V411.28H518.42ZM521.83 413.58H525.24V407.58H521.83ZM525.24 413.58H526.95V409.58H525.24ZM526.95 413.58H528.65V412.18H526.95ZM528.65 413.58H532.06V409.18H528.65ZM532.06 413.58H535.47V406.58H532.06ZM535.47 413.58H537.18V410.18H535.47ZM537.18 413.58H538.89V407.58H537.18ZM538.89 413.58H540.59V410.88H538.89ZM540.59 413.58H542.3V406.98H540.59ZM542.3 413.58H544V402.58H542.3ZM544 413.58H545.71V405.58H544ZM545.71 413.58H547.41V406.98H545.71ZM547.41 413.58H549.12V405.58H547.41ZM549.12 413.58H552.53V407.58H549.12ZM552.53 413.58H554.24V405.58H552.53ZM554.24 413.58H555.94V404.28H554.24ZM555.94 413.58H557.65V402.58H555.94ZM557.65 413.58H559.35V400.38H557.65ZM559.35 413.58H561.06V398.38H559.35ZM561.06 413.58H562.77V400.38H561.06ZM562.77 413.58H564.47V398.38H562.77ZM564.47 413.58H566.18V394.18H564.47ZM566.18 413.58H567.88V399.68H566.18ZM567.88 413.58H569.59V400.38H567.88ZM569.59 413.58H571.29V396.78H569.59ZM571.29 413.58H573V402.98H571.29ZM573 413.58H574.71V398.78H573ZM574.71 413.58H576.41V400.58H574.71ZM576.41 413.58H578.12V385.78H576.41ZM578.12 413.58H579.82V389.98H578.12ZM579.82 413.58H583.23V396.38H579.82ZM583.23 413.58H584.94V391.68H583.23ZM584.94 413.58H586.65V394.98H584.94ZM586.65 413.58H588.35V387.88H586.65ZM588.35 413.58H590.06V387.18H588.35ZM590.06 413.58H591.76V384.38H590.06ZM591.76 413.58H593.47V391.38H591.76ZM593.47 413.58H596.88V394.98H593.47ZM596.88 413.58H598.59V388.58H596.88ZM598.59 413.58H600.29V390.78H598.59ZM600.29 413.58H602V382.28H600.29ZM602 413.58H603.7V381.58H602ZM603.7 413.58H605.41V378.48H603.7ZM605.41 413.58H607.11V379.88H605.41ZM607.11 413.58H610.53V387.88H607.11ZM610.53 413.58H612.23V383.18H610.53ZM612.23 413.58H613.94V389.28H612.23ZM613.94 413.58H615.64V381.28H613.94ZM615.64 413.58H617.35V381.88H615.64ZM617.35 413.58H619.05V390.78H617.35ZM619.05 413.58H620.76V393.58H619.05ZM620.76 413.58H622.47V382.98H620.76ZM622.47 413.58H624.17V392.58H622.47ZM624.17 413.58H625.88V384.68H624.17ZM625.88 413.58H627.58V382.68H625.88ZM627.58 413.58H629.29V383.68H627.58ZM629.29 413.58H630.99V365.98H629.29ZM630.99 413.58H632.7V375.18H630.99ZM632.7 413.58H634.41V386.48H632.7ZM634.41 413.58H636.11V366.28H634.41ZM636.11 413.58H637.82V375.18H636.11ZM637.82 413.58H641.23V385.08H637.82ZM641.23 413.58H644.64V376.58H641.23ZM644.64 413.58H646.35V378.48H644.64ZM646.35 413.58H648.05V384.38H646.35ZM648.05 413.58H649.76V397.08H648.05ZM649.76 413.58H651.46V381.28H649.76ZM651.46 413.58H653.17V383.58H651.46ZM653.17 413.58H654.87V335.78H653.17ZM654.87 413.58H656.58V312.9H654.87ZM656.58 413.58H658.28V368.88H656.58ZM658.28 413.58H659.99V384.28H658.28ZM659.99 413.58H661.7V381.38H659.99ZM661.7 413.58H663.4V362.48H661.7ZM663.4 413.58H665.11V365.28H663.4ZM665.11 413.58H666.81V376.18H665.11ZM666.81 413.58H670.22V375.18H666.81ZM670.22 413.58H673.64V370.98H670.22Z" fill="#a2e8ee"/><line x1="61.8" y1="312.9" x2="61.8" y2="438.75" stroke="#3a58f2" stroke-opacity="0.85" stroke-width="1" stroke-dasharray="1,1.25"/><line x1="519.27" y1="312.9" x2="519.27" y2="438.75" stroke="#3a58f2" stroke-opacity="0.85" stroke-width="1" stroke-dasharray="1,1.25"/><line x1="527.97" y1="312.9" x2="527.97" y2="438.75" stroke="#3a58f2" stroke-opacity="0.85" stroke-width="1" stroke-dasharray="1,1.25"/><line x1="652.32" y1="312.9" x2="652.32" y2="438.75" stroke="#3a58f2" stroke-opacity="0.85" stroke-width="1" stroke-dasharray="1,1.25"/><rect x="55.4" y="312.9" width="622.8" height="125.85" fill="none" stroke="#262626" stroke-width="1.1"/><line x1="48.4" y1="438.75" x2="55.4" y2="438.75" stroke="#262626" stroke-width="1.1"/><line x1="678.2" y1="438.75" x2="685.2" y2="438.75" stroke="#262626" stroke-width="1.1"/><text x="23" y="442.95" class="tk" textLength="21.7" lengthAdjust="spacingAndGlyphs">−50</text><line x1="48.4" y1="413.58" x2="55.4" y2="413.58" stroke="#262626" stroke-width="1.1"/><line x1="678.2" y1="413.58" x2="685.2" y2="413.58" stroke="#262626" stroke-width="1.1"/><text x="38.15" y="417.78" class="tk" textLength="6.55" lengthAdjust="spacingAndGlyphs">0</text><line x1="48.4" y1="388.41" x2="55.4" y2="388.41" stroke="#262626" stroke-width="1.1"/><line x1="678.2" y1="388.41" x2="685.2" y2="388.41" stroke="#262626" stroke-width="1.1"/><text x="31.6" y="392.61" class="tk" textLength="13.1" lengthAdjust="spacingAndGlyphs">50</text><line x1="48.4" y1="363.24" x2="55.4" y2="363.24" stroke="#262626" stroke-width="1.1"/><line x1="678.2" y1="363.24" x2="685.2" y2="363.24" stroke="#262626" stroke-width="1.1"/><text x="25.05" y="367.44" class="tk" textLength="19.65" lengthAdjust="spacingAndGlyphs">100</text><line x1="48.4" y1="338.07" x2="55.4" y2="338.07" stroke="#262626" stroke-width="1.1"/><line x1="678.2" y1="338.07" x2="685.2" y2="338.07" stroke="#262626" stroke-width="1.1"/><text x="25.05" y="342.27" class="tk" textLength="19.65" lengthAdjust="spacingAndGlyphs">150</text><line x1="48.4" y1="312.9" x2="55.4" y2="312.9" stroke="#262626" stroke-width="1.1"/><line x1="678.2" y1="312.9" x2="685.2" y2="312.9" stroke="#262626" stroke-width="1.1"/><text x="25.05" y="317.1" class="tk" textLength="19.65" lengthAdjust="spacingAndGlyphs">200</text><line x1="55.32" y1="438.75" x2="55.32" y2="445.55" stroke="#262626" stroke-width="1.1"/><line x1="140.6" y1="438.75" x2="140.6" y2="445.55" stroke="#262626" stroke-width="1.1"/><line x1="225.89" y1="438.75" x2="225.89" y2="445.55" stroke="#262626" stroke-width="1.1"/><line x1="311.18" y1="438.75" x2="311.18" y2="445.55" stroke="#262626" stroke-width="1.1"/><line x1="396.46" y1="438.75" x2="396.46" y2="445.55" stroke="#262626" stroke-width="1.1"/><line x1="481.75" y1="438.75" x2="481.75" y2="445.55" stroke="#262626" stroke-width="1.1"/><line x1="567.03" y1="438.75" x2="567.03" y2="445.55" stroke="#262626" stroke-width="1.1"/><line x1="652.32" y1="438.75" x2="652.32" y2="445.55" stroke="#262626" stroke-width="1.1"/><text x="64.5" y="330.9" class="pl">c)</text><rect x="56.17" y="461.1" width="1.71" height="125.85" fill="url(#hatch)"/><rect x="73.23" y="461.1" width="1.71" height="125.85" fill="url(#hatch)"/><rect x="81.76" y="461.1" width="1.71" height="125.85" fill="url(#hatch)"/><rect x="91.99" y="461.1" width="8.53" height="125.85" fill="url(#hatch)"/><rect x="117.58" y="461.1" width="5.12" height="125.85" fill="url(#hatch)"/><rect x="173.87" y="461.1" width="8.53" height="125.85" fill="url(#hatch)"/><rect x="199.45" y="461.1" width="1.71" height="125.85" fill="url(#hatch)"/><rect x="202.86" y="461.1" width="1.71" height="125.85" fill="url(#hatch)"/><rect x="240.39" y="461.1" width="1.71" height="125.85" fill="url(#hatch)"/><rect x="265.97" y="461.1" width="10.23" height="125.85" fill="url(#hatch)"/><rect x="300.09" y="461.1" width="1.71" height="125.85" fill="url(#hatch)"/><rect x="318.85" y="461.1" width="1.71" height="125.85" fill="url(#hatch)"/><rect x="322.26" y="461.1" width="1.71" height="125.85" fill="url(#hatch)"/><rect x="383.67" y="461.1" width="1.71" height="125.85" fill="url(#hatch)"/><rect x="388.78" y="461.1" width="1.71" height="125.85" fill="url(#hatch)"/><rect x="397.31" y="461.1" width="3.41" height="125.85" fill="url(#hatch)"/><rect x="410.96" y="461.1" width="1.71" height="125.85" fill="url(#hatch)"/><rect x="414.37" y="461.1" width="1.71" height="125.85" fill="url(#hatch)"/><rect x="417.78" y="461.1" width="3.41" height="125.85" fill="url(#hatch)"/><rect x="431.43" y="461.1" width="1.71" height="125.85" fill="url(#hatch)"/><rect x="438.25" y="461.1" width="3.41" height="125.85" fill="url(#hatch)"/><rect x="491.13" y="461.1" width="1.71" height="125.85" fill="url(#hatch)"/><rect x="588.35" y="461.1" width="3.41" height="125.85" fill="url(#hatch)"/><rect x="503.07" y="461.1" width="66.52" height="125.85" fill="url(#hatch)"/><rect x="629.29" y="461.1" width="48.91" height="125.85" fill="url(#hatch)"/><line x1="316.29" y1="461.1" x2="316.29" y2="586.95" stroke="#d62728" stroke-opacity="0.58" stroke-width="1.15"/><line x1="338.47" y1="461.1" x2="338.47" y2="586.95" stroke="#d62728" stroke-opacity="0.58" stroke-width="1.15"/><line x1="353.82" y1="461.1" x2="353.82" y2="586.95" stroke="#d62728" stroke-opacity="0.58" stroke-width="1.15"/><line x1="381.11" y1="461.1" x2="381.11" y2="586.95" stroke="#d62728" stroke-opacity="0.58" stroke-width="1.15"/><line x1="427.16" y1="461.1" x2="427.16" y2="586.95" stroke="#d62728" stroke-opacity="0.58" stroke-width="1.15"/><line x1="451.04" y1="461.1" x2="451.04" y2="586.95" stroke="#d62728" stroke-opacity="0.58" stroke-width="1.15"/><line x1="306.06" y1="461.1" x2="306.06" y2="586.95" stroke="#df5a60" stroke-width="1.3" stroke-dasharray="5.5,6.7"/><line x1="437.4" y1="461.1" x2="437.4" y2="586.95" stroke="#df5a60" stroke-width="1.3" stroke-dasharray="5.5,6.7"/><path d="M56.17 586.95H61.29V583.15H56.17ZM61.29 586.95H63V584.55H61.29ZM63 586.95H64.7V583.85H63ZM64.7 586.95H68.11V582.85H64.7ZM68.11 586.95H71.52V584.55H68.11ZM71.52 586.95H73.23V583.85H71.52ZM73.23 586.95H74.94V582.05H73.23ZM74.94 586.95H76.64V584.55H74.94ZM76.64 586.95H80.05V583.85H76.64ZM80.05 586.95H81.76V583.15H80.05ZM81.76 586.95H85.17V584.55H81.76ZM85.17 586.95H86.88V583.85H85.17ZM86.88 586.95H90.29V584.55H86.88ZM90.29 586.95H91.99V583.15H90.29ZM91.99 586.95H93.7V581.75H91.99ZM93.7 586.95H95.4V574.95H93.7ZM95.4 586.95H97.11V578.65H95.4ZM97.11 586.95H98.82V565.95H97.11ZM98.82 586.95H100.52V549.05H98.82ZM100.52 586.95H102.23V576.75H100.52ZM102.23 586.95H103.93V583.15H102.23ZM103.93 586.95H105.64V580.05H103.93ZM105.64 586.95H107.34V583.15H105.64ZM107.34 586.95H109.05V582.85H107.34ZM109.05 586.95H110.76V584.85H109.05ZM110.76 586.95H112.46V580.35H110.76ZM112.46 586.95H115.87V581.05H112.46ZM115.87 586.95H117.58V580.65H115.87ZM117.58 586.95H119.28V555.65H117.58ZM119.28 586.95H120.99V562.25H119.28ZM120.99 586.95H122.7V577.25H120.99ZM122.7 586.95H124.4V581.75H122.7ZM124.4 586.95H126.11V584.85H124.4ZM126.11 586.95H127.81V582.85H126.11ZM127.81 586.95H129.52V583.15H127.81ZM129.52 586.95H131.22V575.35H129.52ZM131.22 586.95H132.93V558.05H131.22ZM132.93 586.95H134.64V582.85H132.93ZM134.64 586.95H136.34V583.85H134.64ZM136.34 586.95H139.75V585.95H136.34ZM139.75 586.95H141.46V581.05H139.75ZM141.46 586.95H144.87V577.75H141.46ZM144.87 586.95H146.57V583.15H144.87ZM146.57 586.95H148.28V585.25H146.57ZM148.28 586.95H151.69V583.85H148.28ZM151.69 586.95H155.1V581.75H151.69ZM155.1 586.95H160.22V583.85H155.1ZM160.22 586.95H165.34V585.25H160.22ZM165.34 586.95H172.16V584.85H165.34ZM172.16 586.95H173.87V578.25H172.16ZM173.87 586.95H175.57V571.85H173.87ZM175.57 586.95H177.28V576.75H175.57ZM178.98 586.95H182.39V583.85H178.98ZM182.39 586.95H185.81V582.85H182.39ZM185.81 586.95H187.51V583.85H185.81ZM187.51 586.95H189.22V581.75H187.51ZM189.22 586.95H190.92V578.65H189.22ZM190.92 586.95H192.63V575.35H190.92ZM192.63 586.95H194.33V574.35H192.63ZM194.33 586.95H196.04V573.95H194.33ZM196.04 586.95H197.75V571.85H196.04ZM197.75 586.95H199.45V579.65H197.75ZM199.45 586.95H201.16V567.35H199.45ZM201.16 586.95H202.86V571.85H201.16ZM202.86 586.95H204.57V578.95H202.86ZM204.57 586.95H206.27V579.65H204.57ZM206.27 586.95H207.98V576.05H206.27ZM207.98 586.95H209.69V572.95H207.98ZM209.69 586.95H211.39V571.15H209.69ZM211.39 586.95H213.1V580.35H211.39ZM213.1 586.95H214.8V575.85H213.1ZM214.8 586.95H216.51V571.85H214.8ZM216.51 586.95H218.21V576.05H216.51ZM218.21 586.95H219.92V570.15H218.21ZM219.92 586.95H221.63V574.35H219.92ZM221.63 586.95H223.33V581.05H221.63ZM223.33 586.95H225.04V581.75H223.33ZM225.04 586.95H226.74V582.45H225.04ZM226.74 586.95H228.45V583.15H226.74ZM228.45 586.95H230.15V578.95H228.45ZM230.15 586.95H231.86V571.85H230.15ZM231.86 586.95H233.57V574.95H231.86ZM233.57 586.95H235.27V576.35H233.57ZM235.27 586.95H236.98V579.65H235.27ZM236.98 586.95H240.39V578.95H236.98ZM240.39 586.95H242.09V582.45H240.39ZM242.09 586.95H243.8V581.05H242.09ZM243.8 586.95H245.51V582.45H243.8ZM245.51 586.95H247.21V580.65H245.51ZM247.21 586.95H248.92V582.85H247.21ZM248.92 586.95H250.62V583.85H248.92ZM250.62 586.95H252.33V582.05H250.62ZM252.33 586.95H254.03V582.85H252.33ZM254.03 586.95H255.74V583.85H254.03ZM255.74 586.95H257.45V580.05H255.74ZM257.45 586.95H259.15V570.75H257.45ZM259.15 586.95H260.86V566.95H259.15ZM260.86 586.95H262.56V571.85H260.86ZM262.56 586.95H264.27V569.35H262.56ZM264.27 586.95H265.97V572.95H264.27ZM265.97 586.95H267.68V566.95H265.97ZM267.68 586.95H269.39V576.75H267.68ZM269.39 586.95H271.09V565.05H269.39ZM271.09 586.95H272.8V571.85H271.09ZM272.8 586.95H274.5V562.65H272.8ZM274.5 586.95H276.21V570.45H274.5ZM276.21 586.95H277.91V575.35H276.21ZM277.91 586.95H279.62V576.05H277.91ZM279.62 586.95H281.33V580.05H279.62ZM281.33 586.95H283.03V575.85H281.33ZM283.03 586.95H284.74V582.45H283.03ZM286.44 586.95H291.56V582.05H286.44ZM291.56 586.95H293.27V583.85H291.56ZM293.27 586.95H294.97V581.75H293.27ZM294.97 586.95H296.68V578.25H294.97ZM296.68 586.95H298.38V583.85H296.68ZM298.38 586.95H303.5V584.55H298.38ZM303.5 586.95H306.91V585.25H303.5ZM306.91 586.95H308.62V583.15H306.91ZM308.62 586.95H310.32V580.65H308.62ZM310.32 586.95H312.03V582.85H310.32ZM312.03 586.95H315.44V580.05H312.03ZM315.44 586.95H320.56V583.15H315.44ZM320.56 586.95H322.26V585.25H320.56ZM322.26 586.95H325.67V583.85H322.26ZM325.67 586.95H330.79V582.45H325.67ZM330.79 586.95H334.2V584.55H330.79ZM334.2 586.95H337.61V583.15H334.2ZM337.61 586.95H339.32V581.05H337.61ZM339.32 586.95H346.14V583.85H339.32ZM346.14 586.95H347.85V585.25H346.14ZM347.85 586.95H352.96V582.05H347.85ZM352.96 586.95H356.38V585.25H352.96ZM356.38 586.95H359.79V583.15H356.38ZM359.79 586.95H370.02V585.25H359.79ZM370.02 586.95H375.14V583.85H370.02ZM375.14 586.95H388.78V585.25H375.14ZM388.78 586.95H426.31V585.45H388.78ZM426.31 586.95H428.02V581.05H426.31ZM428.02 586.95H429.72V582.85H428.02ZM429.72 586.95H431.43V582.45H429.72ZM431.43 586.95H433.13V579.15H431.43ZM433.13 586.95H434.84V580.65H433.13ZM434.84 586.95H436.54V578.65H434.84ZM436.54 586.95H439.96V579.65H436.54ZM439.96 586.95H446.78V583.85H439.96ZM446.78 586.95H448.48V580.05H446.78ZM448.48 586.95H450.19V584.55H448.48ZM450.19 586.95H451.9V461.1H450.19ZM451.9 586.95H453.6V585.25H451.9ZM453.6 586.95H455.31V580.35H453.6ZM455.31 586.95H457.01V584.55H455.31ZM457.01 586.95H458.72V557.05H457.01ZM458.72 586.95H465.54V584.55H458.72ZM465.54 586.95H467.25V585.25H465.54ZM467.25 586.95H468.95V578.25H467.25ZM468.95 586.95H470.66V579.65H468.95ZM470.66 586.95H472.36V577.75H470.66ZM472.36 586.95H475.78V578.95H472.36ZM475.78 586.95H477.48V580.65H475.78ZM477.48 586.95H479.19V577.45H477.48ZM479.19 586.95H482.6V576.35H479.19ZM482.6 586.95H484.3V577.45H482.6ZM484.3 586.95H487.71V578.25H484.3ZM487.71 586.95H489.42V577.45H487.71ZM489.42 586.95H491.13V576.05H489.42ZM491.13 586.95H492.83V573.95H491.13ZM492.83 586.95H494.54V580.05H492.83ZM494.54 586.95H496.24V573.95H494.54ZM496.24 586.95H497.95V578.65H496.24ZM497.95 586.95H499.65V571.85H497.95ZM499.65 586.95H503.07V572.95H499.65ZM503.07 586.95H504.77V564.05H503.07ZM504.77 586.95H506.48V570.45H504.77ZM506.48 586.95H508.18V574.65H506.48ZM508.18 586.95H509.89V569.75H508.18ZM509.89 586.95H511.59V564.85H509.89ZM511.59 586.95H513.3V568.75H511.59ZM513.3 586.95H515.01V557.75H513.3ZM515.01 586.95H516.71V561.95H515.01ZM516.71 586.95H518.42V557.45H516.71ZM520.12 586.95H521.83V562.65H520.12ZM521.83 586.95H523.53V564.05H521.83ZM523.53 586.95H525.24V555.65H523.53ZM525.24 586.95H526.95V563.35H525.24ZM528.65 586.95H530.36V569.05H528.65ZM530.36 586.95H532.06V557.75H530.36ZM532.06 586.95H533.77V568.35H532.06ZM533.77 586.95H535.47V552.85H533.77ZM535.47 586.95H537.18V559.45H535.47ZM537.18 586.95H538.89V555.65H537.18ZM538.89 586.95H540.59V568.35H538.89ZM540.59 586.95H542.3V557.75H540.59ZM542.3 586.95H544V540.85H542.3ZM544 586.95H545.71V550.65H544ZM545.71 586.95H547.41V567.65H545.71ZM547.41 586.95H549.12V556.35H547.41ZM549.12 586.95H550.83V557.05H549.12ZM550.83 586.95H552.53V558.05H550.83ZM552.53 586.95H554.24V547.15H552.53ZM554.24 586.95H555.94V545.75H554.24ZM555.94 586.95H557.65V535.15H555.94ZM557.65 586.95H559.35V542.95H557.65ZM559.35 586.95H561.06V537.25H559.35ZM561.06 586.95H562.77V534.85H561.06ZM562.77 586.95H564.47V552.15H562.77ZM564.47 586.95H566.18V537.25H564.47ZM566.18 586.95H567.88V536.55H566.18ZM567.88 586.95H569.59V542.95H567.88ZM569.59 586.95H571.29V550.65H569.59ZM571.29 586.95H573V557.05H571.29ZM573 586.95H574.71V556.05H573ZM574.71 586.95H576.41V547.85H574.71ZM576.41 586.95H578.12V525.55H576.41ZM578.12 586.95H579.82V526.45H578.12ZM579.82 586.95H581.53V540.85H579.82ZM581.53 586.95H583.23V535.85H581.53ZM583.23 586.95H584.94V545.35H583.23ZM584.94 586.95H586.65V532.05H584.94ZM586.65 586.95H588.35V544.75H586.65ZM588.35 586.95H590.06V533.05H588.35ZM590.06 586.95H591.76V536.35H590.06ZM591.76 586.95H593.47V538.75H591.76ZM593.47 586.95H595.17V519.65H593.47ZM595.17 586.95H596.88V557.05H595.17ZM596.88 586.95H598.59V562.65H596.88ZM598.59 586.95H600.29V572.55H598.59ZM600.29 586.95H602V545.05H600.29ZM602 586.95H603.7V539.15H602ZM603.7 586.95H605.41V526.95H603.7ZM605.41 586.95H607.11V540.55H605.41ZM607.11 586.95H608.82V568.35H607.11ZM608.82 586.95H610.53V558.45H608.82ZM610.53 586.95H612.23V551.85H610.53ZM612.23 586.95H613.94V558.45H612.23ZM613.94 586.95H615.64V567.65H613.94ZM615.64 586.95H617.35V559.45H615.64ZM617.35 586.95H619.05V574.65H617.35ZM619.05 586.95H620.76V578.25H619.05ZM620.76 586.95H622.47V550.45H620.76ZM622.47 586.95H624.17V570.45H622.47ZM624.17 586.95H625.88V553.85H624.17ZM625.88 586.95H627.58V545.75H625.88ZM627.58 586.95H629.29V567.35H627.58ZM629.29 586.95H630.99V538.05H629.29ZM630.99 586.95H632.7V553.55H630.99ZM632.7 586.95H634.41V549.95H632.7ZM634.41 586.95H636.11V492.15H634.41ZM636.11 586.95H637.82V532.05H636.11ZM637.82 586.95H639.52V556.35H637.82ZM639.52 586.95H641.23V543.35H639.52ZM641.23 586.95H644.64V544.35H641.23ZM644.64 586.95H646.35V551.45H644.64ZM646.35 586.95H648.05V570.45H646.35ZM648.05 586.95H649.76V578.95H648.05ZM649.76 586.95H651.46V569.05H649.76ZM653.17 586.95H654.87V528.15H653.17ZM654.87 586.95H656.58V471.45H654.87ZM656.58 586.95H658.28V574.15H656.58ZM658.28 586.95H659.99V579.15H658.28ZM659.99 586.95H661.7V572.05H659.99ZM661.7 586.95H663.4V566.15H661.7ZM663.4 586.95H665.11V551.15H663.4ZM665.11 586.95H666.81V576.05H665.11ZM666.81 586.95H668.52V571.35H666.81ZM668.52 586.95H670.22V562.85H668.52ZM670.22 586.95H671.93V569.95H670.22ZM671.93 586.95H673.64V552.95H671.93Z" fill="#a8e462"/><line x1="61.63" y1="461.1" x2="61.63" y2="586.95" stroke="#3a58f2" stroke-opacity="0.85" stroke-width="1" stroke-dasharray="1,1.25"/><line x1="68.28" y1="461.1" x2="68.28" y2="586.95" stroke="#3a58f2" stroke-opacity="0.85" stroke-width="1" stroke-dasharray="1,1.25"/><line x1="70.16" y1="461.1" x2="70.16" y2="586.95" stroke="#3a58f2" stroke-opacity="0.85" stroke-width="1" stroke-dasharray="1,1.25"/><line x1="109.9" y1="461.1" x2="109.9" y2="586.95" stroke="#3a58f2" stroke-opacity="0.85" stroke-width="1" stroke-dasharray="1,1.25"/><line x1="125.42" y1="461.1" x2="125.42" y2="586.95" stroke="#3a58f2" stroke-opacity="0.85" stroke-width="1" stroke-dasharray="1,1.25"/><line x1="137.36" y1="461.1" x2="137.36" y2="586.95" stroke="#3a58f2" stroke-opacity="0.85" stroke-width="1" stroke-dasharray="1,1.25"/><line x1="139.24" y1="461.1" x2="139.24" y2="586.95" stroke="#3a58f2" stroke-opacity="0.85" stroke-width="1" stroke-dasharray="1,1.25"/><line x1="147.26" y1="461.1" x2="147.26" y2="586.95" stroke="#3a58f2" stroke-opacity="0.85" stroke-width="1" stroke-dasharray="1,1.25"/><line x1="161.07" y1="461.1" x2="161.07" y2="586.95" stroke="#3a58f2" stroke-opacity="0.85" stroke-width="1" stroke-dasharray="1,1.25"/><line x1="164.14" y1="461.1" x2="164.14" y2="586.95" stroke="#3a58f2" stroke-opacity="0.85" stroke-width="1" stroke-dasharray="1,1.25"/><line x1="167.38" y1="461.1" x2="167.38" y2="586.95" stroke="#3a58f2" stroke-opacity="0.85" stroke-width="1" stroke-dasharray="1,1.25"/><line x1="168.75" y1="461.1" x2="168.75" y2="586.95" stroke="#3a58f2" stroke-opacity="0.85" stroke-width="1" stroke-dasharray="1,1.25"/><line x1="170.28" y1="461.1" x2="170.28" y2="586.95" stroke="#3a58f2" stroke-opacity="0.85" stroke-width="1" stroke-dasharray="1,1.25"/><line x1="171.14" y1="461.1" x2="171.14" y2="586.95" stroke="#3a58f2" stroke-opacity="0.85" stroke-width="1" stroke-dasharray="1,1.25"/><line x1="178.3" y1="461.1" x2="178.3" y2="586.95" stroke="#3a58f2" stroke-opacity="0.85" stroke-width="1" stroke-dasharray="1,1.25"/><line x1="306.06" y1="461.1" x2="306.06" y2="586.95" stroke="#3a58f2" stroke-opacity="0.85" stroke-width="1" stroke-dasharray="1,1.25"/><line x1="316.12" y1="461.1" x2="316.12" y2="586.95" stroke="#3a58f2" stroke-opacity="0.85" stroke-width="1" stroke-dasharray="1,1.25"/><line x1="346.82" y1="461.1" x2="346.82" y2="586.95" stroke="#3a58f2" stroke-opacity="0.85" stroke-width="1" stroke-dasharray="1,1.25"/><line x1="355.01" y1="461.1" x2="355.01" y2="586.95" stroke="#3a58f2" stroke-opacity="0.85" stroke-width="1" stroke-dasharray="1,1.25"/><line x1="389.47" y1="461.1" x2="389.47" y2="586.95" stroke="#3a58f2" stroke-opacity="0.85" stroke-width="1" stroke-dasharray="1,1.25"/><line x1="392.88" y1="461.1" x2="392.88" y2="586.95" stroke="#3a58f2" stroke-opacity="0.85" stroke-width="1" stroke-dasharray="1,1.25"/><line x1="401.07" y1="461.1" x2="401.07" y2="586.95" stroke="#3a58f2" stroke-opacity="0.85" stroke-width="1" stroke-dasharray="1,1.25"/><line x1="406.18" y1="461.1" x2="406.18" y2="586.95" stroke="#3a58f2" stroke-opacity="0.85" stroke-width="1" stroke-dasharray="1,1.25"/><line x1="407.89" y1="461.1" x2="407.89" y2="586.95" stroke="#3a58f2" stroke-opacity="0.85" stroke-width="1" stroke-dasharray="1,1.25"/><line x1="418.12" y1="461.1" x2="418.12" y2="586.95" stroke="#3a58f2" stroke-opacity="0.85" stroke-width="1" stroke-dasharray="1,1.25"/><line x1="466.73" y1="461.1" x2="466.73" y2="586.95" stroke="#3a58f2" stroke-opacity="0.85" stroke-width="1" stroke-dasharray="1,1.25"/><line x1="519.27" y1="461.1" x2="519.27" y2="586.95" stroke="#3a58f2" stroke-opacity="0.85" stroke-width="1" stroke-dasharray="1,1.25"/><line x1="528.14" y1="461.1" x2="528.14" y2="586.95" stroke="#3a58f2" stroke-opacity="0.85" stroke-width="1" stroke-dasharray="1,1.25"/><line x1="652.32" y1="461.1" x2="652.32" y2="586.95" stroke="#3a58f2" stroke-opacity="0.85" stroke-width="1" stroke-dasharray="1,1.25"/><rect x="55.4" y="461.1" width="622.8" height="125.85" fill="none" stroke="#262626" stroke-width="1.1"/><line x1="48.4" y1="586.95" x2="55.4" y2="586.95" stroke="#262626" stroke-width="1.1"/><line x1="678.2" y1="586.95" x2="685.2" y2="586.95" stroke="#262626" stroke-width="1.1"/><text x="38.15" y="591.15" class="tk" textLength="6.55" lengthAdjust="spacingAndGlyphs">0</text><line x1="48.4" y1="545" x2="55.4" y2="545" stroke="#262626" stroke-width="1.1"/><line x1="678.2" y1="545" x2="685.2" y2="545" stroke="#262626" stroke-width="1.1"/><text x="38.15" y="549.2" class="tk" textLength="6.55" lengthAdjust="spacingAndGlyphs">5</text><line x1="48.4" y1="503.05" x2="55.4" y2="503.05" stroke="#262626" stroke-width="1.1"/><line x1="678.2" y1="503.05" x2="685.2" y2="503.05" stroke="#262626" stroke-width="1.1"/><text x="31.6" y="507.25" class="tk" textLength="13.1" lengthAdjust="spacingAndGlyphs">10</text><line x1="48.4" y1="461.1" x2="55.4" y2="461.1" stroke="#262626" stroke-width="1.1"/><line x1="678.2" y1="461.1" x2="685.2" y2="461.1" stroke="#262626" stroke-width="1.1"/><text x="31.6" y="465.3" class="tk" textLength="13.1" lengthAdjust="spacingAndGlyphs">15</text><line x1="55.32" y1="586.95" x2="55.32" y2="593.75" stroke="#262626" stroke-width="1.1"/><line x1="140.6" y1="586.95" x2="140.6" y2="593.75" stroke="#262626" stroke-width="1.1"/><line x1="225.89" y1="586.95" x2="225.89" y2="593.75" stroke="#262626" stroke-width="1.1"/><line x1="311.18" y1="586.95" x2="311.18" y2="593.75" stroke="#262626" stroke-width="1.1"/><line x1="396.46" y1="586.95" x2="396.46" y2="593.75" stroke="#262626" stroke-width="1.1"/><line x1="481.75" y1="586.95" x2="481.75" y2="593.75" stroke="#262626" stroke-width="1.1"/><line x1="567.03" y1="586.95" x2="567.03" y2="593.75" stroke="#262626" stroke-width="1.1"/><line x1="652.32" y1="586.95" x2="652.32" y2="593.75" stroke="#262626" stroke-width="1.1"/><text x="64.5" y="479.1" class="pl">d)</text><rect x="56.17" y="609.3" width="1.71" height="125.85" fill="url(#hatch)"/><rect x="73.23" y="609.3" width="1.71" height="125.85" fill="url(#hatch)"/><rect x="81.76" y="609.3" width="1.71" height="125.85" fill="url(#hatch)"/><rect x="91.99" y="609.3" width="8.53" height="125.85" fill="url(#hatch)"/><rect x="117.58" y="609.3" width="5.12" height="125.85" fill="url(#hatch)"/><rect x="173.87" y="609.3" width="8.53" height="125.85" fill="url(#hatch)"/><rect x="199.45" y="609.3" width="1.71" height="125.85" fill="url(#hatch)"/><rect x="202.86" y="609.3" width="1.71" height="125.85" fill="url(#hatch)"/><rect x="240.39" y="609.3" width="1.71" height="125.85" fill="url(#hatch)"/><rect x="265.97" y="609.3" width="10.23" height="125.85" fill="url(#hatch)"/><rect x="300.09" y="609.3" width="1.71" height="125.85" fill="url(#hatch)"/><rect x="318.85" y="609.3" width="1.71" height="125.85" fill="url(#hatch)"/><rect x="322.26" y="609.3" width="1.71" height="125.85" fill="url(#hatch)"/><rect x="383.67" y="609.3" width="1.71" height="125.85" fill="url(#hatch)"/><rect x="388.78" y="609.3" width="1.71" height="125.85" fill="url(#hatch)"/><rect x="397.31" y="609.3" width="3.41" height="125.85" fill="url(#hatch)"/><rect x="410.96" y="609.3" width="1.71" height="125.85" fill="url(#hatch)"/><rect x="414.37" y="609.3" width="1.71" height="125.85" fill="url(#hatch)"/><rect x="417.78" y="609.3" width="3.41" height="125.85" fill="url(#hatch)"/><rect x="431.43" y="609.3" width="1.71" height="125.85" fill="url(#hatch)"/><rect x="438.25" y="609.3" width="3.41" height="125.85" fill="url(#hatch)"/><rect x="491.13" y="609.3" width="1.71" height="125.85" fill="url(#hatch)"/><rect x="588.35" y="609.3" width="3.41" height="125.85" fill="url(#hatch)"/><rect x="503.07" y="609.3" width="66.52" height="125.85" fill="url(#hatch)"/><rect x="629.29" y="609.3" width="48.91" height="125.85" fill="url(#hatch)"/><line x1="316.29" y1="609.3" x2="316.29" y2="735.15" stroke="#d62728" stroke-opacity="0.58" stroke-width="1.15"/><line x1="338.47" y1="609.3" x2="338.47" y2="735.15" stroke="#d62728" stroke-opacity="0.58" stroke-width="1.15"/><line x1="353.82" y1="609.3" x2="353.82" y2="735.15" stroke="#d62728" stroke-opacity="0.58" stroke-width="1.15"/><line x1="381.11" y1="609.3" x2="381.11" y2="735.15" stroke="#d62728" stroke-opacity="0.58" stroke-width="1.15"/><line x1="427.16" y1="609.3" x2="427.16" y2="735.15" stroke="#d62728" stroke-opacity="0.58" stroke-width="1.15"/><line x1="451.04" y1="609.3" x2="451.04" y2="735.15" stroke="#d62728" stroke-opacity="0.58" stroke-width="1.15"/><line x1="306.06" y1="609.3" x2="306.06" y2="735.15" stroke="#df5a60" stroke-width="1.3" stroke-dasharray="5.5,6.7"/><line x1="437.4" y1="609.3" x2="437.4" y2="735.15" stroke="#df5a60" stroke-width="1.3" stroke-dasharray="5.5,6.7"/><path d="M56.17 735.15H57.88V731.15H56.17ZM57.88 735.15H59.58V722.75H57.88ZM59.58 735.15H61.29V727.65H59.58ZM61.29 735.15H63V733.15H61.29ZM63 735.15H64.7V723.45H63ZM64.7 735.15H66.41V658.95H64.7ZM66.41 735.15H68.11V708.95H66.41ZM68.11 735.15H69.82V711.45H68.11ZM69.82 735.15H71.52V729.75H69.82ZM71.52 735.15H73.23V728.05H71.52ZM73.23 735.15H76.64V729.75H73.23ZM76.64 735.15H78.35V667.75H76.64ZM78.35 735.15H80.05V724.45H78.35ZM80.05 735.15H81.76V726.65H80.05ZM81.76 735.15H95.4V730.95H81.76ZM95.4 735.15H97.11V714.25H95.4ZM97.11 735.15H98.82V730.95H97.11ZM98.82 735.15H100.52V705.55H98.82ZM100.52 735.15H107.34V730.95H100.52ZM107.34 735.15H109.05V728.05H107.34ZM109.05 735.15H114.17V730.95H109.05ZM114.17 735.15H115.87V728.05H114.17ZM115.87 735.15H119.28V730.95H115.87ZM119.28 735.15H122.7V733.35H119.28ZM122.7 735.15H126.11V731.15H122.7ZM126.11 735.15H127.81V729.05H126.11ZM127.81 735.15H131.22V730.95H127.81ZM131.22 735.15H132.93V730.05H131.22ZM132.93 735.15H136.34V731.95H132.93ZM136.34 735.15H138.05V725.25H136.34ZM138.05 735.15H141.46V729.55H138.05ZM141.46 735.15H143.16V633.15H141.46ZM143.16 735.15H144.87V713.55H143.16ZM144.87 735.15H149.99V729.55H144.87ZM149.99 735.15H151.69V674.75H149.99ZM151.69 735.15H153.4V723.85H151.69ZM153.4 735.15H155.1V726.25H153.4ZM155.1 735.15H156.81V730.45H155.1ZM156.81 735.15H158.51V727.25H156.81ZM158.51 735.15H172.16V730.95H158.51ZM172.16 735.15H173.87V728.05H172.16ZM173.87 735.15H175.57V724.45H173.87ZM175.57 735.15H177.28V713.95H175.57ZM177.28 735.15H178.98V728.65H177.28ZM178.98 735.15H180.69V725.85H178.98ZM180.69 735.15H184.1V726.95H180.69ZM184.1 735.15H185.81V719.65H184.1ZM185.81 735.15H187.51V719.25H185.81ZM187.51 735.15H190.92V729.75H187.51ZM190.92 735.15H192.63V722.05H190.92ZM192.63 735.15H199.45V728.05H192.63ZM199.45 735.15H201.16V728.65H199.45ZM201.16 735.15H202.86V684.65H201.16ZM202.86 735.15H204.57V717.75H202.86ZM204.57 735.15H206.27V719.95H204.57ZM206.27 735.15H209.69V728.05H206.27ZM209.69 735.15H211.39V724.45H209.69ZM211.39 735.15H214.8V729.75H211.39ZM214.8 735.15H216.51V726.95H214.8ZM216.51 735.15H218.21V724.85H216.51ZM218.21 735.15H219.92V715.35H218.21ZM219.92 735.15H225.04V730.05H219.92ZM225.04 735.15H230.15V729.75H225.04ZM230.15 735.15H235.27V727.65H230.15ZM235.27 735.15H236.98V725.55H235.27ZM236.98 735.15H238.68V723.05H236.98ZM238.68 735.15H243.8V728.05H238.68ZM243.8 735.15H245.51V729.75H243.8ZM245.51 735.15H247.21V727.25H245.51ZM247.21 735.15H250.62V730.45H247.21ZM250.62 735.15H252.33V719.95H250.62ZM252.33 735.15H255.74V730.95H252.33ZM255.74 735.15H257.45V729.05H255.74ZM257.45 735.15H259.15V717.35H257.45ZM259.15 735.15H260.86V724.15H259.15ZM260.86 735.15H264.27V730.95H260.86ZM264.27 735.15H265.97V705.85H264.27ZM265.97 735.15H267.68V699.85H265.97ZM267.68 735.15H269.39V709.75H267.68ZM269.39 735.15H271.09V699.85H269.39ZM271.09 735.15H272.8V726.25H271.09ZM272.8 735.15H274.5V715.65H272.8ZM274.5 735.15H276.21V726.25H274.5ZM276.21 735.15H277.91V726.95H276.21ZM277.91 735.15H279.62V718.75H277.91ZM279.62 735.15H281.33V710.05H279.62ZM281.33 735.15H283.03V715.35H281.33ZM283.03 735.15H284.74V717.35H283.03ZM284.74 735.15H288.15V730.45H284.74ZM288.15 735.15H289.85V712.15H288.15ZM289.85 735.15H291.56V727.65H289.85ZM291.56 735.15H294.97V729.55H291.56ZM294.97 735.15H298.38V720.15H294.97ZM298.38 735.15H300.09V718.55H298.38ZM300.09 735.15H303.5V726.25H300.09ZM303.5 735.15H305.21V714.55H303.5ZM305.21 735.15H306.91V731.15H305.21ZM306.91 735.15H308.62V729.75H306.91ZM308.62 735.15H312.03V726.25H308.62ZM312.03 735.15H313.73V725.55H312.03ZM313.73 735.15H315.44V705.15H313.73ZM315.44 735.15H317.14V662.75H315.44ZM317.14 735.15H318.85V725.55H317.14ZM318.85 735.15H320.56V721.05H318.85ZM320.56 735.15H323.97V733.35H320.56ZM323.97 735.15H325.67V730.05H323.97ZM325.67 735.15H342.73V731.95H325.67ZM342.73 735.15H344.44V729.05H342.73ZM344.44 735.15H347.85V730.95H344.44ZM347.85 735.15H349.55V718.75H347.85ZM349.55 735.15H351.26V728.35H349.55ZM351.26 735.15H356.38V730.05H351.26ZM356.38 735.15H358.08V733.35H356.38ZM358.08 735.15H371.73V731.15H358.08ZM371.73 735.15H373.43V725.85H371.73ZM373.43 735.15H375.14V733.35H373.43ZM375.14 735.15H380.26V731.95H375.14ZM380.26 735.15H385.37V734.05H380.26ZM385.37 735.15H387.08V729.75H385.37ZM387.08 735.15H388.78V715.95H387.08ZM388.78 735.15H390.49V712.85H388.78ZM390.49 735.15H392.2V727.65H390.49ZM392.2 735.15H399.02V728.65H392.2ZM399.02 735.15H402.43V729.75H399.02ZM402.43 735.15H410.96V731.15H402.43ZM410.96 735.15H412.66V726.25H410.96ZM412.66 735.15H416.08V729.05H412.66ZM416.08 735.15H417.78V726.95H416.08ZM417.78 735.15H421.19V723.45H417.78ZM421.19 735.15H426.31V718.25H421.19ZM426.31 735.15H428.02V699.05H426.31ZM428.02 735.15H429.72V718.75H428.02ZM429.72 735.15H431.43V715.95H429.72ZM431.43 735.15H433.13V713.15H431.43ZM433.13 735.15H434.84V710.75H433.13ZM434.84 735.15H436.54V708.95H434.84ZM436.54 735.15H438.25V710.75H436.54ZM438.25 735.15H439.96V716.35H438.25ZM439.96 735.15H441.66V711.45H439.96ZM441.66 735.15H446.78V732.65H441.66ZM446.78 735.15H448.48V728.05H446.78ZM448.48 735.15H450.19V731.15H448.48ZM450.19 735.15H451.9V714.95H450.19ZM451.9 735.15H453.6V731.15H451.9ZM453.6 735.15H455.31V728.65H453.6ZM455.31 735.15H457.01V722.05H455.31ZM457.01 735.15H458.72V730.95H457.01ZM458.72 735.15H460.42V733.75H458.72ZM460.42 735.15H465.54V730.95H460.42ZM465.54 735.15H470.66V728.05H465.54ZM470.66 735.15H472.36V726.95H470.66ZM472.36 735.15H474.07V728.65H472.36ZM474.07 735.15H475.78V719.95H474.07ZM475.78 735.15H477.48V725.85H475.78ZM477.48 735.15H479.19V708.95H477.48ZM479.19 735.15H480.89V721.05H479.19ZM480.89 735.15H484.3V722.75H480.89ZM484.3 735.15H487.71V721.35H484.3ZM487.71 735.15H489.42V609.3H487.71ZM489.42 735.15H491.13V702.95H489.42ZM491.13 735.15H492.83V717.75H491.13ZM492.83 735.15H494.54V722.75H492.83ZM494.54 735.15H496.24V708.95H494.54ZM496.24 735.15H497.95V721.05H496.24ZM497.95 735.15H499.65V708.95H497.95ZM499.65 735.15H501.36V684.35H499.65ZM501.36 735.15H503.07V663.25H501.36ZM503.07 735.15H504.77V703.65H503.07ZM504.77 735.15H509.89V721.05H504.77ZM509.89 735.15H511.59V723.45H509.89ZM511.59 735.15H513.3V714.95H511.59ZM513.3 735.15H515.01V728.65H513.3ZM515.01 735.15H516.71V727.25H515.01ZM516.71 735.15H518.42V728.65H516.71ZM520.12 735.15H521.83V722.75H520.12ZM521.83 735.15H523.53V725.25H521.83ZM523.53 735.15H525.24V723.85H523.53ZM525.24 735.15H526.95V726.25H525.24ZM528.65 735.15H530.36V726.65H528.65ZM530.36 735.15H532.06V728.35H530.36ZM532.06 735.15H533.77V726.95H532.06ZM533.77 735.15H535.47V728.35H533.77ZM535.47 735.15H537.18V729.75H535.47ZM537.18 735.15H540.59V734.65H537.18ZM540.59 735.15H542.3V729.55H540.59ZM542.3 735.15H544V727.25H542.3ZM544 735.15H545.71V728.35H544ZM545.71 735.15H547.41V729.05H545.71ZM547.41 735.15H549.12V725.85H547.41ZM549.12 735.15H550.83V725.25H549.12ZM550.83 735.15H552.53V719.25H550.83ZM552.53 735.15H554.24V724.85H552.53ZM554.24 735.15H555.94V723.05H554.24ZM555.94 735.15H557.65V719.95H555.94ZM557.65 735.15H559.35V725.25H557.65ZM559.35 735.15H561.06V726.25H559.35ZM561.06 735.15H562.77V724.45H561.06ZM562.77 735.15H564.47V726.95H562.77ZM564.47 735.15H566.18V724.25H564.47ZM566.18 735.15H569.59V725.65H566.18ZM569.59 735.15H573V723.95H569.59ZM573 735.15H574.71V719.95H573ZM574.71 735.15H576.41V729.55H574.71ZM576.41 735.15H578.12V722.15H576.41ZM578.12 735.15H579.82V723.95H578.12ZM579.82 735.15H581.53V722.85H579.82ZM581.53 735.15H583.23V733.95H581.53ZM583.23 735.15H586.65V732.15H583.23ZM586.65 735.15H590.06V725.65H586.65ZM590.06 735.15H591.76V723.95H590.06ZM591.76 735.15H593.47V729.85H591.76ZM593.47 735.15H595.17V721.65H593.47ZM595.17 735.15H596.88V730.95H595.17ZM596.88 735.15H598.59V727.75H596.88ZM598.59 735.15H600.29V702.05H598.59ZM600.29 735.15H602V725.15H600.29ZM602 735.15H603.7V722.15H602ZM603.7 735.15H605.41V717.25H603.7ZM605.41 735.15H607.11V726.05H605.41ZM607.11 735.15H608.82V712.55H607.11ZM608.82 735.15H610.53V715.15H608.82ZM610.53 735.15H612.23V686.15H610.53ZM612.23 735.15H613.94V721.15H612.23ZM613.94 735.15H615.64V728.15H613.94ZM615.64 735.15H620.76V731.25H615.64ZM620.76 735.15H622.47V732.65H620.76ZM622.47 735.15H624.17V729.55H622.47ZM624.17 735.15H625.88V695.95H624.17ZM625.88 735.15H627.58V729.55H625.88ZM627.58 735.15H630.99V731.65H627.58ZM630.99 735.15H632.7V719.95H630.99ZM632.7 735.15H634.41V727.75H632.7ZM634.41 735.15H636.11V723.45H634.41ZM636.11 735.15H637.82V721.15H636.11ZM637.82 735.15H641.23V730.95H637.82ZM641.23 735.15H644.64V731.65H641.23ZM644.64 735.15H649.76V730.05H644.64ZM649.76 735.15H651.46V722.15H649.76ZM651.46 735.15H653.17V733.15H651.46ZM653.17 735.15H654.87V722.15H653.17ZM654.87 735.15H656.58V715.85H654.87ZM656.58 735.15H658.28V726.05H656.58ZM658.28 735.15H659.99V719.95H658.28ZM659.99 735.15H661.7V722.15H659.99ZM661.7 735.15H663.4V718.15H661.7ZM663.4 735.15H665.11V722.15H663.4ZM665.11 735.15H666.81V725.15H665.11ZM666.81 735.15H668.52V726.95H666.81ZM668.52 735.15H670.22V716.95H668.52ZM670.22 735.15H671.93V710.25H670.22ZM671.93 735.15H673.64V719.95H671.93Z" fill="#fcda66"/><line x1="61.63" y1="609.3" x2="61.63" y2="735.15" stroke="#3a58f2" stroke-opacity="0.85" stroke-width="1" stroke-dasharray="1,1.25"/><line x1="306.06" y1="609.3" x2="306.06" y2="735.15" stroke="#3a58f2" stroke-opacity="0.85" stroke-width="1" stroke-dasharray="1,1.25"/><line x1="519.27" y1="609.3" x2="519.27" y2="735.15" stroke="#3a58f2" stroke-opacity="0.85" stroke-width="1" stroke-dasharray="1,1.25"/><line x1="528.14" y1="609.3" x2="528.14" y2="735.15" stroke="#3a58f2" stroke-opacity="0.85" stroke-width="1" stroke-dasharray="1,1.25"/><line x1="652.32" y1="609.3" x2="652.32" y2="735.15" stroke="#3a58f2" stroke-opacity="0.85" stroke-width="1" stroke-dasharray="1,1.25"/><rect x="55.4" y="609.3" width="622.8" height="125.85" fill="none" stroke="#262626" stroke-width="1.1"/><line x1="48.4" y1="735.15" x2="55.4" y2="735.15" stroke="#262626" stroke-width="1.1"/><line x1="678.2" y1="735.15" x2="685.2" y2="735.15" stroke="#262626" stroke-width="1.1"/><text x="38.15" y="739.35" class="tk" textLength="6.55" lengthAdjust="spacingAndGlyphs">0</text><line x1="48.4" y1="703.69" x2="55.4" y2="703.69" stroke="#262626" stroke-width="1.1"/><line x1="678.2" y1="703.69" x2="685.2" y2="703.69" stroke="#262626" stroke-width="1.1"/><text x="38.15" y="707.89" class="tk" textLength="6.55" lengthAdjust="spacingAndGlyphs">5</text><line x1="48.4" y1="672.23" x2="55.4" y2="672.23" stroke="#262626" stroke-width="1.1"/><line x1="678.2" y1="672.23" x2="685.2" y2="672.23" stroke="#262626" stroke-width="1.1"/><text x="31.6" y="676.43" class="tk" textLength="13.1" lengthAdjust="spacingAndGlyphs">10</text><line x1="48.4" y1="640.76" x2="55.4" y2="640.76" stroke="#262626" stroke-width="1.1"/><line x1="678.2" y1="640.76" x2="685.2" y2="640.76" stroke="#262626" stroke-width="1.1"/><text x="31.6" y="644.96" class="tk" textLength="13.1" lengthAdjust="spacingAndGlyphs">15</text><line x1="48.4" y1="609.3" x2="55.4" y2="609.3" stroke="#262626" stroke-width="1.1"/><line x1="678.2" y1="609.3" x2="685.2" y2="609.3" stroke="#262626" stroke-width="1.1"/><text x="31.6" y="613.5" class="tk" textLength="13.1" lengthAdjust="spacingAndGlyphs">20</text><line x1="55.32" y1="735.15" x2="55.32" y2="741.95" stroke="#262626" stroke-width="1.1"/><line x1="140.6" y1="735.15" x2="140.6" y2="741.95" stroke="#262626" stroke-width="1.1"/><line x1="225.89" y1="735.15" x2="225.89" y2="741.95" stroke="#262626" stroke-width="1.1"/><line x1="311.18" y1="735.15" x2="311.18" y2="741.95" stroke="#262626" stroke-width="1.1"/><line x1="396.46" y1="735.15" x2="396.46" y2="741.95" stroke="#262626" stroke-width="1.1"/><line x1="481.75" y1="735.15" x2="481.75" y2="741.95" stroke="#262626" stroke-width="1.1"/><line x1="567.03" y1="735.15" x2="567.03" y2="741.95" stroke="#262626" stroke-width="1.1"/><line x1="652.32" y1="735.15" x2="652.32" y2="741.95" stroke="#262626" stroke-width="1.1"/><text x="64.5" y="627.3" class="pl">e)</text><rect x="56.17" y="757.5" width="1.71" height="125.85" fill="url(#hatch)"/><rect x="73.23" y="757.5" width="1.71" height="125.85" fill="url(#hatch)"/><rect x="81.76" y="757.5" width="1.71" height="125.85" fill="url(#hatch)"/><rect x="91.99" y="757.5" width="8.53" height="125.85" fill="url(#hatch)"/><rect x="117.58" y="757.5" width="5.12" height="125.85" fill="url(#hatch)"/><rect x="173.87" y="757.5" width="8.53" height="125.85" fill="url(#hatch)"/><rect x="199.45" y="757.5" width="1.71" height="125.85" fill="url(#hatch)"/><rect x="202.86" y="757.5" width="1.71" height="125.85" fill="url(#hatch)"/><rect x="240.39" y="757.5" width="1.71" height="125.85" fill="url(#hatch)"/><rect x="265.97" y="757.5" width="10.23" height="125.85" fill="url(#hatch)"/><rect x="300.09" y="757.5" width="1.71" height="125.85" fill="url(#hatch)"/><rect x="318.85" y="757.5" width="1.71" height="125.85" fill="url(#hatch)"/><rect x="322.26" y="757.5" width="1.71" height="125.85" fill="url(#hatch)"/><rect x="383.67" y="757.5" width="1.71" height="125.85" fill="url(#hatch)"/><rect x="388.78" y="757.5" width="1.71" height="125.85" fill="url(#hatch)"/><rect x="397.31" y="757.5" width="3.41" height="125.85" fill="url(#hatch)"/><rect x="410.96" y="757.5" width="1.71" height="125.85" fill="url(#hatch)"/><rect x="414.37" y="757.5" width="1.71" height="125.85" fill="url(#hatch)"/><rect x="417.78" y="757.5" width="3.41" height="125.85" fill="url(#hatch)"/><rect x="431.43" y="757.5" width="1.71" height="125.85" fill="url(#hatch)"/><rect x="438.25" y="757.5" width="3.41" height="125.85" fill="url(#hatch)"/><rect x="491.13" y="757.5" width="1.71" height="125.85" fill="url(#hatch)"/><rect x="588.35" y="757.5" width="3.41" height="125.85" fill="url(#hatch)"/><rect x="503.07" y="757.5" width="66.52" height="125.85" fill="url(#hatch)"/><rect x="629.29" y="757.5" width="48.91" height="125.85" fill="url(#hatch)"/><line x1="316.29" y1="757.5" x2="316.29" y2="883.35" stroke="#d62728" stroke-opacity="0.58" stroke-width="1.15"/><line x1="338.47" y1="757.5" x2="338.47" y2="883.35" stroke="#d62728" stroke-opacity="0.58" stroke-width="1.15"/><line x1="353.82" y1="757.5" x2="353.82" y2="883.35" stroke="#d62728" stroke-opacity="0.58" stroke-width="1.15"/><line x1="381.11" y1="757.5" x2="381.11" y2="883.35" stroke="#d62728" stroke-opacity="0.58" stroke-width="1.15"/><line x1="427.16" y1="757.5" x2="427.16" y2="883.35" stroke="#d62728" stroke-opacity="0.58" stroke-width="1.15"/><line x1="451.04" y1="757.5" x2="451.04" y2="883.35" stroke="#d62728" stroke-opacity="0.58" stroke-width="1.15"/><line x1="306.06" y1="757.5" x2="306.06" y2="883.35" stroke="#df5a60" stroke-width="1.3" stroke-dasharray="5.5,6.7"/><line x1="437.4" y1="757.5" x2="437.4" y2="883.35" stroke="#df5a60" stroke-width="1.3" stroke-dasharray="5.5,6.7"/><path d="M56.17 883.35H61.29V879.85H56.17ZM61.29 883.35H68.11V879.15H61.29ZM69.82 883.35H74.94V875.55H69.82ZM74.94 883.35H76.64V880.55H74.94ZM76.64 883.35H80.05V877.05H76.64ZM80.05 883.35H86.88V881.25H80.05ZM86.88 883.35H88.58V877.05H86.88ZM88.58 883.35H98.82V881.65H88.58ZM98.82 883.35H102.23V879.85H98.82ZM102.23 883.35H112.46V881.65H102.23ZM112.46 883.35H115.87V878.85H112.46ZM115.87 883.35H117.58V881.65H115.87ZM117.58 883.35H119.28V872.75H117.58ZM119.28 883.35H120.99V876.55H119.28ZM120.99 883.35H122.7V870.65H120.99ZM122.7 883.35H127.81V881.25H122.7ZM127.81 883.35H131.22V879.85H127.81ZM131.22 883.35H134.64V881.25H131.22ZM134.64 883.35H136.34V878.85H134.64ZM136.34 883.35H139.75V880.85H136.34ZM139.75 883.35H141.46V880.45H139.75ZM141.46 883.35H143.16V880.85H141.46ZM143.16 883.35H144.87V880.45H143.16ZM146.57 883.35H149.99V879.45H146.57ZM149.99 883.35H151.69V880.45H149.99ZM151.69 883.35H153.4V878.75H151.69ZM153.4 883.35H155.1V877.05H153.4ZM156.81 883.35H158.51V881.35H156.81ZM158.51 883.35H172.16V882.05H158.51ZM173.87 883.35H175.57V880.05H173.87ZM178.98 883.35H180.69V879.65H178.98ZM189.22 883.35H190.92V875.75H189.22ZM190.92 883.35H194.33V878.35H190.92ZM199.45 883.35H201.16V877.85H199.45ZM201.16 883.35H202.86V879.65H201.16ZM202.86 883.35H204.57V879.15H202.86ZM214.8 883.35H221.63V880.05H214.8ZM230.15 883.35H233.57V879.15H230.15ZM233.57 883.35H235.27V880.75H233.57ZM235.27 883.35H236.98V878.75H235.27ZM236.98 883.35H240.39V875.15H236.98ZM240.39 883.35H242.09V881.35H240.39ZM242.09 883.35H248.92V882.25H242.09ZM252.33 883.35H254.03V881.35H252.33ZM254.03 883.35H257.45V880.05H254.03ZM257.45 883.35H259.15V851.15H257.45ZM259.15 883.35H260.86V870.15H259.15ZM260.86 883.35H264.27V879.15H260.86ZM264.27 883.35H265.97V875.15H264.27ZM265.97 883.35H269.39V874.75H265.97ZM269.39 883.35H271.09V860.75H269.39ZM271.09 883.35H272.8V868.65H271.09ZM272.8 883.35H274.5V869.55H272.8ZM274.5 883.35H276.21V872.15H274.5ZM276.21 883.35H277.91V876.55H276.21ZM277.91 883.35H279.62V868.85H277.91ZM279.62 883.35H281.33V877.85H279.62ZM281.33 883.35H284.74V880.75H281.33ZM284.74 883.35H286.44V880.05H284.74ZM286.44 883.35H289.85V878.35H286.44ZM289.85 883.35H291.56V880.05H289.85ZM291.56 883.35H293.27V871.75H291.56ZM293.27 883.35H294.97V868.85H293.27ZM294.97 883.35H296.68V876.15H294.97ZM296.68 883.35H298.38V877.85H296.68ZM298.38 883.35H300.09V881.35H298.38ZM300.09 883.35H301.79V877.85H300.09ZM301.79 883.35H305.21V880.05H301.79ZM305.21 883.35H308.62V879.15H305.21ZM310.32 883.35H312.03V879.45H310.32ZM312.03 883.35H313.73V880.05H312.03ZM313.73 883.35H315.44V868.85H313.73ZM315.44 883.35H317.14V860.35H315.44ZM317.14 883.35H318.85V876.75H317.14ZM318.85 883.35H320.56V880.05H318.85ZM320.56 883.35H325.67V882.05H320.56ZM325.67 883.35H327.38V880.05H325.67ZM327.38 883.35H329.08V877.85H327.38ZM329.08 883.35H330.79V879.15H329.08ZM330.79 883.35H332.5V880.05H330.79ZM332.5 883.35H334.2V881.35H332.5ZM334.2 883.35H335.91V874.15H334.2ZM335.91 883.35H337.61V877.45H335.91ZM337.61 883.35H339.32V875.15H337.61ZM339.32 883.35H341.02V876.15H339.32ZM341.02 883.35H342.73V881.35H341.02ZM342.73 883.35H344.44V875.15H342.73ZM344.44 883.35H346.14V877.45H344.44ZM346.14 883.35H347.85V882.35H346.14ZM347.85 883.35H349.55V875.15H347.85ZM349.55 883.35H351.26V877.45H349.55ZM351.26 883.35H352.96V870.85H351.26ZM352.96 883.35H354.67V875.75H352.96ZM354.67 883.35H356.38V876.75H354.67ZM356.38 883.35H358.08V878.75H356.38ZM358.08 883.35H363.2V879.45H358.08ZM363.2 883.35H364.9V880.45H363.2ZM364.9 883.35H366.61V878.05H364.9ZM366.61 883.35H371.73V882.35H366.61ZM371.73 883.35H373.43V865.65H371.73ZM373.43 883.35H375.14V862.05H373.43ZM375.14 883.35H376.84V868.65H375.14ZM376.84 883.35H378.55V879.45H376.84ZM378.55 883.35H380.26V875.75H378.55ZM380.26 883.35H381.96V875.45H380.26ZM381.96 883.35H383.67V868.25H381.96ZM383.67 883.35H385.37V866.95H383.67ZM385.37 883.35H387.08V879.15H385.37ZM387.08 883.35H388.78V870.85H387.08ZM388.78 883.35H390.49V879.45H388.78ZM390.49 883.35H393.9V882.65H390.49ZM393.9 883.35H400.72V881.35H393.9ZM400.72 883.35H410.96V882.35H400.72ZM410.96 883.35H412.66V879.65H410.96ZM412.66 883.35H416.08V881.35H412.66ZM416.08 883.35H417.78V875.75H416.08ZM417.78 883.35H421.19V880.45H417.78ZM421.19 883.35H424.6V879.65H421.19ZM424.6 883.35H426.31V876.75H424.6ZM426.31 883.35H428.02V868.25H426.31ZM428.02 883.35H431.43V874.15H428.02ZM431.43 883.35H433.13V876.75H431.43ZM433.13 883.35H434.84V879.15H433.13ZM434.84 883.35H436.54V876.75H434.84ZM436.54 883.35H438.25V869.95H436.54ZM438.25 883.35H439.96V844.95H438.25ZM439.96 883.35H441.66V841.95H439.96ZM441.66 883.35H443.37V875.15H441.66ZM443.37 883.35H445.07V873.45H443.37ZM445.07 883.35H446.78V877.85H445.07ZM446.78 883.35H448.48V868.85H446.78ZM448.48 883.35H450.19V879.15H448.48ZM450.19 883.35H451.9V855.05H450.19ZM451.9 883.35H453.6V872.85H451.9ZM453.6 883.35H455.31V863.35H453.6ZM455.31 883.35H457.01V872.85H455.31ZM457.01 883.35H458.72V875.15H457.01ZM458.72 883.35H460.42V871.75H458.72ZM460.42 883.35H462.13V872.55H460.42ZM462.13 883.35H463.84V873.45H462.13ZM463.84 883.35H465.54V879.15H463.84ZM465.54 883.35H467.25V875.75H465.54ZM467.25 883.35H468.95V872.85H467.25ZM468.95 883.35H470.66V868.25H468.95ZM470.66 883.35H472.36V871.75H470.66ZM472.36 883.35H475.78V875.75H472.36ZM475.78 883.35H477.48V876.55H475.78ZM477.48 883.35H479.19V858.15H477.48ZM479.19 883.35H480.89V866.45H479.19ZM480.89 883.35H482.6V860.55H480.89ZM482.6 883.35H486.01V864.75H482.6ZM486.01 883.35H487.71V867.15H486.01ZM487.71 883.35H489.42V865.35H487.71ZM489.42 883.35H491.13V871.35H489.42ZM491.13 883.35H494.54V874.65H491.13ZM494.54 883.35H496.24V867.85H494.54ZM496.24 883.35H497.95V858.25H496.24ZM497.95 883.35H499.65V863.85H497.95ZM499.65 883.35H501.36V849.75H499.65ZM501.36 883.35H503.07V853.05H501.36ZM503.07 883.35H504.77V863.35H503.07ZM504.77 883.35H506.48V866.45H504.77ZM506.48 883.35H508.18V868.95H506.48ZM508.18 883.35H509.89V859.05H508.18ZM509.89 883.35H511.59V858.25H509.89ZM511.59 883.35H513.3V872.75H511.59ZM513.3 883.35H515.01V836.85H513.3ZM515.01 883.35H516.71V862.85H515.01ZM516.71 883.35H518.42V865.05H516.71ZM518.42 883.35H520.12V880.25H518.42ZM520.12 883.35H521.83V862.25H520.12ZM521.83 883.35H523.53V869.95H521.83ZM523.53 883.35H525.24V870.65H523.53ZM525.24 883.35H526.95V874.85H525.24ZM526.95 883.35H528.65V882.85H526.95ZM528.65 883.35H530.36V874.85H528.65ZM530.36 883.35H532.06V849.25H530.36ZM532.06 883.35H533.77V874.85H532.06ZM533.77 883.35H535.47V861.05H533.77ZM535.47 883.35H537.18V837.15H535.47ZM537.18 883.35H538.89V826.25H537.18ZM538.89 883.35H540.59V823.85H538.89ZM540.59 883.35H542.3V835.45H540.59ZM542.3 883.35H544V782.95H542.3ZM544 883.35H545.71V861.95H544ZM545.71 883.35H549.12V871.75H545.71ZM549.12 883.35H550.83V859.05H549.12ZM550.83 883.35H552.53V869.95H550.83ZM552.53 883.35H554.24V856.25H552.53ZM554.24 883.35H555.94V823.35H554.24ZM555.94 883.35H557.65V815.95H555.94ZM557.65 883.35H559.35V856.25H557.65ZM559.35 883.35H561.06V853.75H559.35ZM561.06 883.35H562.77V865.05H561.06ZM562.77 883.35H564.47V856.85H562.77ZM564.47 883.35H566.18V857.95H564.47ZM566.18 883.35H567.88V867.15H566.18ZM567.88 883.35H569.59V874.85H567.88ZM569.59 883.35H571.29V870.95H569.59ZM571.29 883.35H573V872.75H571.29ZM573 883.35H574.71V871.75H573ZM574.71 883.35H576.41V874.85H574.71ZM576.41 883.35H578.12V799.05H576.41ZM578.12 883.35H579.82V815.95H578.12ZM579.82 883.35H581.53V776.15H579.82ZM581.53 883.35H583.23V757.5H581.53ZM583.23 883.35H584.94V853.45H583.23ZM584.94 883.35H586.65V869.55H584.94ZM586.65 883.35H588.35V867.15H586.65ZM588.35 883.35H590.06V868.95H588.35ZM590.06 883.35H591.76V876.05H590.06ZM591.76 883.35H593.47V878.85H591.76ZM593.47 883.35H595.17V876.25H593.47ZM595.17 883.35H596.88V879.45H595.17ZM596.88 883.35H600.29V876.05H596.88ZM600.29 883.35H602V869.95H600.29ZM602 883.35H603.7V875.15H602ZM603.7 883.35H605.41V866.15H603.7ZM605.41 883.35H607.11V873.75H605.41ZM607.11 883.35H608.82V876.55H607.11ZM608.82 883.35H613.94V877.45H608.82ZM613.94 883.35H615.64V875.15H613.94ZM615.64 883.35H617.35V877.45H615.64ZM617.35 883.35H619.05V876.55H617.35ZM619.05 883.35H620.76V879.35H619.05ZM620.76 883.35H622.47V870.75H620.76ZM622.47 883.35H624.17V879.05H622.47ZM624.17 883.35H625.88V874.55H624.17ZM625.88 883.35H627.58V878.75H625.88ZM627.58 883.35H629.29V878.05H627.58ZM629.29 883.35H630.99V878.75H629.29ZM630.99 883.35H632.7V876.65H630.99ZM632.7 883.35H634.41V874.25H632.7ZM634.41 883.35H636.11V871.95H634.41ZM636.11 883.35H637.82V874.85H636.11ZM637.82 883.35H639.52V878.35H637.82ZM639.52 883.35H641.23V880.95H639.52ZM641.23 883.35H642.93V877.85H641.23ZM642.93 883.35H644.64V879.55H642.93ZM644.64 883.35H646.35V880.95H644.64ZM646.35 883.35H649.76V881.65H646.35ZM649.76 883.35H651.46V880.45H649.76ZM653.17 883.35H654.87V874.25H653.17ZM654.87 883.35H656.58V877.15H654.87ZM656.58 883.35H658.28V878.05H656.58ZM658.28 883.35H659.99V871.95H658.28ZM659.99 883.35H661.7V874.25H659.99ZM661.7 883.35H663.4V875.55H661.7ZM663.4 883.35H665.11V878.35H663.4ZM665.11 883.35H666.81V874.25H665.11ZM666.81 883.35H668.52V880.45H666.81ZM668.52 883.35H670.22V869.35H668.52ZM670.22 883.35H671.93V865.15H670.22ZM671.93 883.35H673.64V872.45H671.93ZM673.64 883.35H675.34V877.15H673.64Z" fill="#dabbfa"/><line x1="61.8" y1="757.5" x2="61.8" y2="883.35" stroke="#3a58f2" stroke-opacity="0.85" stroke-width="1" stroke-dasharray="1,1.25"/><line x1="181.71" y1="757.5" x2="181.71" y2="883.35" stroke="#3a58f2" stroke-opacity="0.85" stroke-width="1" stroke-dasharray="1,1.25"/><line x1="212.07" y1="757.5" x2="212.07" y2="883.35" stroke="#3a58f2" stroke-opacity="0.85" stroke-width="1" stroke-dasharray="1,1.25"/><line x1="249.94" y1="757.5" x2="249.94" y2="883.35" stroke="#3a58f2" stroke-opacity="0.85" stroke-width="1" stroke-dasharray="1,1.25"/><line x1="306.06" y1="757.5" x2="306.06" y2="883.35" stroke="#3a58f2" stroke-opacity="0.85" stroke-width="1" stroke-dasharray="1,1.25"/><line x1="401.41" y1="757.5" x2="401.41" y2="883.35" stroke="#3a58f2" stroke-opacity="0.85" stroke-width="1" stroke-dasharray="1,1.25"/><line x1="519.27" y1="757.5" x2="519.27" y2="883.35" stroke="#3a58f2" stroke-opacity="0.85" stroke-width="1" stroke-dasharray="1,1.25"/><line x1="527.97" y1="757.5" x2="527.97" y2="883.35" stroke="#3a58f2" stroke-opacity="0.85" stroke-width="1" stroke-dasharray="1,1.25"/><line x1="652.32" y1="757.5" x2="652.32" y2="883.35" stroke="#3a58f2" stroke-opacity="0.85" stroke-width="1" stroke-dasharray="1,1.25"/><rect x="55.4" y="757.5" width="622.8" height="125.85" fill="none" stroke="#262626" stroke-width="1.1"/><line x1="48.4" y1="883.35" x2="55.4" y2="883.35" stroke="#262626" stroke-width="1.1"/><line x1="678.2" y1="883.35" x2="685.2" y2="883.35" stroke="#262626" stroke-width="1.1"/><text x="38.15" y="887.55" class="tk" textLength="6.55" lengthAdjust="spacingAndGlyphs">0</text><line x1="48.4" y1="851.89" x2="55.4" y2="851.89" stroke="#262626" stroke-width="1.1"/><line x1="678.2" y1="851.89" x2="685.2" y2="851.89" stroke="#262626" stroke-width="1.1"/><text x="31.6" y="856.09" class="tk" textLength="13.1" lengthAdjust="spacingAndGlyphs">20</text><line x1="48.4" y1="820.43" x2="55.4" y2="820.43" stroke="#262626" stroke-width="1.1"/><line x1="678.2" y1="820.43" x2="685.2" y2="820.43" stroke="#262626" stroke-width="1.1"/><text x="31.6" y="824.63" class="tk" textLength="13.1" lengthAdjust="spacingAndGlyphs">40</text><line x1="48.4" y1="788.96" x2="55.4" y2="788.96" stroke="#262626" stroke-width="1.1"/><line x1="678.2" y1="788.96" x2="685.2" y2="788.96" stroke="#262626" stroke-width="1.1"/><text x="31.6" y="793.16" class="tk" textLength="13.1" lengthAdjust="spacingAndGlyphs">60</text><line x1="48.4" y1="757.5" x2="55.4" y2="757.5" stroke="#262626" stroke-width="1.1"/><line x1="678.2" y1="757.5" x2="685.2" y2="757.5" stroke="#262626" stroke-width="1.1"/><text x="31.6" y="761.7" class="tk" textLength="13.1" lengthAdjust="spacingAndGlyphs">80</text><line x1="55.32" y1="883.35" x2="55.32" y2="890.15" stroke="#262626" stroke-width="1.1"/><text x="52.14" y="901.9" class="tk" textLength="6.36" lengthAdjust="spacingAndGlyphs">0</text><line x1="140.6" y1="883.35" x2="140.6" y2="890.15" stroke="#262626" stroke-width="1.1"/><text x="134.24" y="901.9" class="tk" textLength="12.72" lengthAdjust="spacingAndGlyphs">50</text><line x1="225.89" y1="883.35" x2="225.89" y2="890.15" stroke="#262626" stroke-width="1.1"/><text x="216.35" y="901.9" class="tk" textLength="19.08" lengthAdjust="spacingAndGlyphs">100</text><line x1="311.18" y1="883.35" x2="311.18" y2="890.15" stroke="#262626" stroke-width="1.1"/><text x="301.63" y="901.9" class="tk" textLength="19.08" lengthAdjust="spacingAndGlyphs">150</text><line x1="396.46" y1="883.35" x2="396.46" y2="890.15" stroke="#262626" stroke-width="1.1"/><text x="386.92" y="901.9" class="tk" textLength="19.08" lengthAdjust="spacingAndGlyphs">200</text><line x1="481.75" y1="883.35" x2="481.75" y2="890.15" stroke="#262626" stroke-width="1.1"/><text x="472.2" y="901.9" class="tk" textLength="19.08" lengthAdjust="spacingAndGlyphs">250</text><line x1="567.03" y1="883.35" x2="567.03" y2="890.15" stroke="#262626" stroke-width="1.1"/><text x="557.49" y="901.9" class="tk" textLength="19.08" lengthAdjust="spacingAndGlyphs">300</text><line x1="652.32" y1="883.35" x2="652.32" y2="890.15" stroke="#262626" stroke-width="1.1"/><text x="642.78" y="901.9" class="tk" textLength="19.08" lengthAdjust="spacingAndGlyphs">350</text><text x="64.5" y="775.5" class="pl">f)</text><line x1="55.32" y1="16.5" x2="55.32" y2="9.2" stroke="#262626" stroke-width="1.1"/><line x1="108.2" y1="16.5" x2="108.2" y2="9.2" stroke="#262626" stroke-width="1.1"/><line x1="155.96" y1="16.5" x2="155.96" y2="9.2" stroke="#262626" stroke-width="1.1"/><line x1="208.83" y1="16.5" x2="208.83" y2="9.2" stroke="#262626" stroke-width="1.1"/><line x1="260" y1="16.5" x2="260" y2="9.2" stroke="#262626" stroke-width="1.1"/><line x1="312.88" y1="16.5" x2="312.88" y2="9.2" stroke="#262626" stroke-width="1.1"/><line x1="364.05" y1="16.5" x2="364.05" y2="9.2" stroke="#262626" stroke-width="1.1"/><line x1="416.93" y1="16.5" x2="416.93" y2="9.2" stroke="#262626" stroke-width="1.1"/><line x1="469.81" y1="16.5" x2="469.81" y2="9.2" stroke="#262626" stroke-width="1.1"/><line x1="520.98" y1="16.5" x2="520.98" y2="9.2" stroke="#262626" stroke-width="1.1"/><line x1="573.85" y1="16.5" x2="573.85" y2="9.2" stroke="#262626" stroke-width="1.1"/><line x1="625.02" y1="16.5" x2="625.02" y2="9.2" stroke="#262626" stroke-width="1.1"/><line x1="678.2" y1="16.5" x2="678.2" y2="9.2" stroke="#262626" stroke-width="1.1"/><text x="79.2" y="8.6" text-anchor="middle" class="mo">Jan</text><text x="132.08" y="8.6" text-anchor="middle" class="mo">Feb</text><text x="179.84" y="8.6" text-anchor="middle" class="mo">Mar</text><text x="232.71" y="8.6" text-anchor="middle" class="mo">Apr</text><text x="283.88" y="8.6" text-anchor="middle" class="mo">May</text><text x="336.76" y="8.6" text-anchor="middle" class="mo">Jun</text><text x="387.93" y="8.6" text-anchor="middle" class="mo">Jul</text><text x="440.81" y="8.6" text-anchor="middle" class="mo">Aug</text><text x="493.68" y="8.6" text-anchor="middle" class="mo">Sep</text><text x="544.86" y="8.6" text-anchor="middle" class="mo">Oct</text><text x="597.73" y="8.6" text-anchor="middle" class="mo">Nov</text><text x="648.9" y="8.6" text-anchor="middle" class="mo">Dec</text><text transform="translate(16.5,79.75) rotate(-90)" x="0" y="0" text-anchor="middle" class="lb" textLength="63.9" lengthAdjust="spacing"><tspan font-style="italic">N</tspan><tspan font-style="italic" font-size="10" dy="2.8">C</tspan><tspan dy="-2.8"> counts</tspan></text><text transform="translate(11.7,227.45) rotate(-90)" x="0" y="0" text-anchor="middle" class="lb" textLength="107.9" lengthAdjust="spacing">ss Na<tspan font-size="10" dy="-5.5">+</tspan><tspan dy="5.5"> </tspan> (ng·m<tspan font-size="10" dy="-5.5">−3</tspan><tspan dy="5.5">)</tspan></text><text transform="translate(12.9,375.7) rotate(-90)" x="0" y="0" text-anchor="middle" class="lb" textLength="122.2" lengthAdjust="spacing">nss SO<tspan font-size="10" dy="3">4</tspan><tspan font-size="10" dx="-5.3" dy="-8.5">2−</tspan><tspan dy="5.5"> </tspan> (ng·m<tspan font-size="10" dy="-5.5">−3</tspan><tspan dy="5.5">)</tspan></text><text transform="translate(21.5,523.45) rotate(-90)" x="0" y="0" text-anchor="middle" class="lb" textLength="88.7" lengthAdjust="spacing">MSA (ng·m<tspan font-size="10" dy="-5.5">−3</tspan><tspan dy="5.5">)</tspan></text><text transform="translate(19,671.25) rotate(-90)" x="0" y="0" text-anchor="middle" class="lb" textLength="119.7" lengthAdjust="spacing">nss Ca<tspan font-size="10" dy="-5.5">2+</tspan><tspan dy="5.5"> </tspan> (ng·m<tspan font-size="10" dy="-5.5">−3</tspan><tspan dy="5.5">)</tspan></text><text transform="translate(21.5,820.25) rotate(-90)" x="0" y="0" text-anchor="middle" class="lb" textLength="91.3" lengthAdjust="spacing">NO<tspan font-size="10" dy="3">3</tspan><tspan font-size="10" dx="-5.3" dy="-8.5">−</tspan><tspan dy="5.5"> </tspan> (ng·m<tspan font-size="10" dy="-5.5">−3</tspan><tspan dy="5.5">)</tspan></text><text x="366.3" y="917.6" text-anchor="middle" class="lb" textLength="74.6" lengthAdjust="spacingAndGlyphs">time (days)</text><text x="286.4" y="42.1" class="an" textLength="26.3" lengthAdjust="spacingAndGlyphs">1192</text><text x="359.5" y="42.1" class="an" textLength="19.2" lengthAdjust="spacingAndGlyphs">454</text><text x="622.8" y="327.9" class="an" textLength="29.2" lengthAdjust="spacingAndGlyphs">312.1</text><text x="457.2" y="477.6" class="an" textLength="23.1" lengthAdjust="spacingAndGlyphs">63.5</text><text x="495.8" y="633.8" class="an" textLength="23" lengthAdjust="spacingAndGlyphs">34.9</text><text x="589.7" y="773.1" class="an" textLength="19.7" lengthAdjust="spacingAndGlyphs">129</text></svg></body></html>
